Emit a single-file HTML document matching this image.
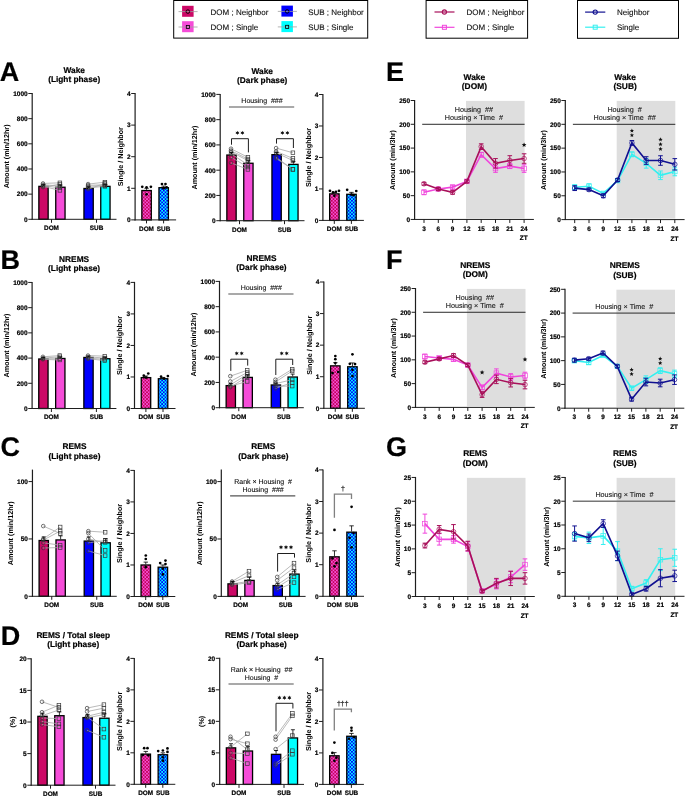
<!DOCTYPE html><html><head><meta charset="utf-8"><style>html,body{margin:0;padding:0;background:#fff;}svg{display:block;will-change:transform;} text{text-rendering:geometricPrecision;}</style></head><body>
<svg width="685" height="796" viewBox="0 0 685 796" font-family='"Liberation Sans", sans-serif'>
<rect width="685" height="796" fill="#fff"/>
<defs>
<pattern id="hd" width="3.36" height="3.36" patternUnits="userSpaceOnUse"><rect width="3.36" height="3.36" fill="#f452d6"/><rect width="1.68" height="1.68" fill="#c4005a"/><rect x="1.68" y="1.68" width="1.68" height="1.68" fill="#c4005a"/></pattern>
<pattern id="hs" width="3.36" height="3.36" patternUnits="userSpaceOnUse"><rect width="3.36" height="3.36" fill="#08f8ff"/><rect width="1.68" height="1.68" fill="#0000f8"/><rect x="1.68" y="1.68" width="1.68" height="1.68" fill="#0000f8"/></pattern>
</defs>
<rect x="173.7" y="0.5" width="194" height="37.6" fill="none" stroke="#000" stroke-width="1"/>
<rect x="182.10" y="5.80" width="11.5" height="11" fill="#cc0866"/>
<line x1="178.50" y1="11.60" x2="197.60" y2="11.60" stroke="#a0a0a0" stroke-width="0.8" />
<circle cx="187.85" cy="11.60" r="1.8" fill="none" stroke="#000" stroke-width="0.9"/>
<text x="210.60" y="15.00" font-size="8" font-weight="normal" text-anchor="start" fill="#111"  stroke="#111" stroke-width="0.12">DOM ; Neighbor</text>
<rect x="182.10" y="21.20" width="11.5" height="11" fill="#f54cd8"/>
<line x1="178.50" y1="27.00" x2="197.60" y2="27.00" stroke="#a0a0a0" stroke-width="0.8" />
<rect x="186.30" y="25.40" width="3.1" height="3.1" fill="none" stroke="#000" stroke-width="0.8"/>
<text x="210.60" y="30.40" font-size="8" font-weight="normal" text-anchor="start" fill="#111"  stroke="#111" stroke-width="0.12">DOM ; Single</text>
<rect x="281.40" y="5.60" width="11.5" height="11" fill="#0000ff"/>
<line x1="277.80" y1="11.40" x2="296.90" y2="11.40" stroke="#a0a0a0" stroke-width="0.8" />
<circle cx="287.15" cy="11.40" r="1.8" fill="none" stroke="#000" stroke-width="0.9"/>
<text x="308.20" y="14.80" font-size="8" font-weight="normal" text-anchor="start" fill="#111"  stroke="#111" stroke-width="0.12">SUB ; Neighbor</text>
<rect x="281.40" y="21.10" width="11.5" height="11" fill="#00ffff"/>
<line x1="277.80" y1="26.90" x2="296.90" y2="26.90" stroke="#a0a0a0" stroke-width="0.8" />
<rect x="285.60" y="25.30" width="3.1" height="3.1" fill="none" stroke="#000" stroke-width="0.8"/>
<text x="308.20" y="30.30" font-size="8" font-weight="normal" text-anchor="start" fill="#111"  stroke="#111" stroke-width="0.12">SUB ; Single</text>
<rect x="426.1" y="0.5" width="101.5" height="37.7" fill="none" stroke="#000" stroke-width="1"/>
<line x1="434.50" y1="12.00" x2="454.50" y2="12.00" stroke="#a8105a" stroke-width="1.2" />
<circle cx="444.4" cy="12.0" r="2.1" fill="none" stroke="#a8105a" stroke-width="1.1"/>
<text x="466.60" y="14.90" font-size="8" font-weight="normal" text-anchor="start" fill="#111"  stroke="#111" stroke-width="0.12">DOM ; Neighbor</text>
<line x1="434.50" y1="27.30" x2="454.50" y2="27.30" stroke="#f046dc" stroke-width="1.2" />
<rect x="442.4" y="25.3" width="4" height="4" fill="none" stroke="#f046dc" stroke-width="1"/>
<text x="466.60" y="30.20" font-size="8" font-weight="normal" text-anchor="start" fill="#111"  stroke="#111" stroke-width="0.12">DOM ; Single</text>
<rect x="577.5" y="0.5" width="101" height="37.8" fill="none" stroke="#000" stroke-width="1"/>
<line x1="585.10" y1="12.10" x2="605.30" y2="12.10" stroke="#101090" stroke-width="1.2" />
<circle cx="595.2" cy="12.1" r="2.1" fill="none" stroke="#101090" stroke-width="1.1"/>
<text x="617.00" y="15.00" font-size="8" font-weight="normal" text-anchor="start" fill="#111"  stroke="#111" stroke-width="0.12">Neighbor</text>
<line x1="585.10" y1="27.20" x2="605.30" y2="27.20" stroke="#33f0f0" stroke-width="1.2" />
<rect x="593.2" y="25.2" width="4" height="4" fill="none" stroke="#33f0f0" stroke-width="1"/>
<text x="617.00" y="30.10" font-size="8" font-weight="normal" text-anchor="start" fill="#111"  stroke="#111" stroke-width="0.12">Single</text>
<text x="-0.30" y="80.60" font-size="27" font-weight="bold" text-anchor="start" fill="#000"  stroke="#000" stroke-width="0.2">A</text>
<text x="0.50" y="269.20" font-size="27" font-weight="bold" text-anchor="start" fill="#000"  stroke="#000" stroke-width="0.2">B</text>
<text x="0.50" y="456.20" font-size="27" font-weight="bold" text-anchor="start" fill="#000"  stroke="#000" stroke-width="0.2">C</text>
<text x="0.70" y="644.80" font-size="27" font-weight="bold" text-anchor="start" fill="#000"  stroke="#000" stroke-width="0.2">D</text>
<text x="386.00" y="81.00" font-size="27" font-weight="bold" text-anchor="start" fill="#000"  stroke="#000" stroke-width="0.2">E</text>
<text x="386.00" y="269.40" font-size="27" font-weight="bold" text-anchor="start" fill="#000"  stroke="#000" stroke-width="0.2">F</text>
<text x="386.00" y="456.20" font-size="27" font-weight="bold" text-anchor="start" fill="#000"  stroke="#000" stroke-width="0.2">G</text>
<rect x="38.85" y="186.36" width="9.30" height="32.94" fill="#cc0866" stroke="#000" stroke-width="1.3"/>
<rect x="55.75" y="187.24" width="9.30" height="32.06" fill="#f54cd8" stroke="#000" stroke-width="1.3"/>
<rect x="83.95" y="188.50" width="9.30" height="30.80" fill="#0000ff" stroke="#000" stroke-width="1.3"/>
<rect x="100.75" y="186.36" width="9.30" height="32.94" fill="#00ffff" stroke="#000" stroke-width="1.3"/>
<line x1="43.00" y1="183.45" x2="59.90" y2="182.82" stroke="#a8a8a8" stroke-width="0.8" />
<line x1="43.00" y1="184.71" x2="59.90" y2="185.96" stroke="#a8a8a8" stroke-width="0.8" />
<line x1="43.00" y1="185.59" x2="59.90" y2="187.85" stroke="#a8a8a8" stroke-width="0.8" />
<line x1="43.00" y1="186.34" x2="59.90" y2="190.37" stroke="#a8a8a8" stroke-width="0.8" />
<line x1="43.00" y1="187.22" x2="59.90" y2="184.08" stroke="#a8a8a8" stroke-width="0.8" />
<circle cx="43.00" cy="183.45" r="1.8" fill="none" stroke="#3a3a3a" stroke-width="0.7"/>
<rect x="58.10" y="181.02" width="3.6" height="3.6" fill="none" stroke="#3a3a3a" stroke-width="0.7"/>
<circle cx="43.00" cy="184.71" r="1.8" fill="none" stroke="#3a3a3a" stroke-width="0.7"/>
<rect x="58.10" y="184.16" width="3.6" height="3.6" fill="none" stroke="#3a3a3a" stroke-width="0.7"/>
<circle cx="43.00" cy="185.59" r="1.8" fill="none" stroke="#3a3a3a" stroke-width="0.7"/>
<rect x="58.10" y="186.05" width="3.6" height="3.6" fill="none" stroke="#3a3a3a" stroke-width="0.7"/>
<circle cx="43.00" cy="186.34" r="1.8" fill="none" stroke="#3a3a3a" stroke-width="0.7"/>
<rect x="58.10" y="188.57" width="3.6" height="3.6" fill="none" stroke="#3a3a3a" stroke-width="0.7"/>
<circle cx="43.00" cy="187.22" r="1.8" fill="none" stroke="#3a3a3a" stroke-width="0.7"/>
<rect x="58.10" y="182.28" width="3.6" height="3.6" fill="none" stroke="#3a3a3a" stroke-width="0.7"/>
<line x1="88.10" y1="184.08" x2="104.90" y2="182.19" stroke="#a8a8a8" stroke-width="0.8" />
<line x1="88.10" y1="185.33" x2="104.90" y2="184.71" stroke="#a8a8a8" stroke-width="0.8" />
<line x1="88.10" y1="186.34" x2="104.90" y2="185.59" stroke="#a8a8a8" stroke-width="0.8" />
<line x1="88.10" y1="187.85" x2="104.90" y2="186.34" stroke="#a8a8a8" stroke-width="0.8" />
<line x1="88.10" y1="189.11" x2="104.90" y2="183.45" stroke="#a8a8a8" stroke-width="0.8" />
<circle cx="88.10" cy="184.08" r="1.8" fill="none" stroke="#3a3a3a" stroke-width="0.7"/>
<rect x="103.10" y="180.39" width="3.6" height="3.6" fill="none" stroke="#3a3a3a" stroke-width="0.7"/>
<circle cx="88.10" cy="185.33" r="1.8" fill="none" stroke="#3a3a3a" stroke-width="0.7"/>
<rect x="103.10" y="182.91" width="3.6" height="3.6" fill="none" stroke="#3a3a3a" stroke-width="0.7"/>
<circle cx="88.10" cy="186.34" r="1.8" fill="none" stroke="#3a3a3a" stroke-width="0.7"/>
<rect x="103.10" y="183.79" width="3.6" height="3.6" fill="none" stroke="#3a3a3a" stroke-width="0.7"/>
<circle cx="88.10" cy="187.85" r="1.8" fill="none" stroke="#3a3a3a" stroke-width="0.7"/>
<rect x="103.10" y="184.54" width="3.6" height="3.6" fill="none" stroke="#3a3a3a" stroke-width="0.7"/>
<circle cx="88.10" cy="189.11" r="1.8" fill="none" stroke="#3a3a3a" stroke-width="0.7"/>
<rect x="103.10" y="181.65" width="3.6" height="3.6" fill="none" stroke="#3a3a3a" stroke-width="0.7"/>
<line x1="43.50" y1="185.71" x2="43.50" y2="184.71" stroke="#000" stroke-width="0.8" />
<line x1="41.50" y1="184.71" x2="45.50" y2="184.71" stroke="#000" stroke-width="0.8" />
<line x1="60.40" y1="186.59" x2="60.40" y2="185.08" stroke="#000" stroke-width="0.8" />
<line x1="58.40" y1="185.08" x2="62.40" y2="185.08" stroke="#000" stroke-width="0.8" />
<line x1="88.60" y1="187.85" x2="88.60" y2="186.84" stroke="#000" stroke-width="0.8" />
<line x1="86.60" y1="186.84" x2="90.60" y2="186.84" stroke="#000" stroke-width="0.8" />
<line x1="105.40" y1="185.71" x2="105.40" y2="184.71" stroke="#000" stroke-width="0.8" />
<line x1="103.40" y1="184.71" x2="107.40" y2="184.71" stroke="#000" stroke-width="0.8" />
<line x1="32.20" y1="93.00" x2="32.20" y2="219.80" stroke="#1e1e1e" stroke-width="1.2" />
<line x1="28.30" y1="219.30" x2="32.20" y2="219.30" stroke="#1e1e1e" stroke-width="1" />
<text x="27.70" y="221.64" font-size="6.5" font-weight="bold" text-anchor="end" fill="#000"  stroke="#000" stroke-width="0.2">0</text>
<line x1="28.30" y1="194.14" x2="32.20" y2="194.14" stroke="#1e1e1e" stroke-width="1" />
<text x="27.70" y="196.48" font-size="6.5" font-weight="bold" text-anchor="end" fill="#000"  stroke="#000" stroke-width="0.2">200</text>
<line x1="28.30" y1="168.98" x2="32.20" y2="168.98" stroke="#1e1e1e" stroke-width="1" />
<text x="27.70" y="171.32" font-size="6.5" font-weight="bold" text-anchor="end" fill="#000"  stroke="#000" stroke-width="0.2">400</text>
<line x1="28.30" y1="143.82" x2="32.20" y2="143.82" stroke="#1e1e1e" stroke-width="1" />
<text x="27.70" y="146.16" font-size="6.5" font-weight="bold" text-anchor="end" fill="#000"  stroke="#000" stroke-width="0.2">600</text>
<line x1="28.30" y1="118.66" x2="32.20" y2="118.66" stroke="#1e1e1e" stroke-width="1" />
<text x="27.70" y="121.00" font-size="6.5" font-weight="bold" text-anchor="end" fill="#000"  stroke="#000" stroke-width="0.2">800</text>
<line x1="28.30" y1="93.50" x2="32.20" y2="93.50" stroke="#1e1e1e" stroke-width="1" />
<text x="27.70" y="95.84" font-size="6.5" font-weight="bold" text-anchor="end" fill="#000"  stroke="#000" stroke-width="0.2">1000</text>
<line x1="31.70" y1="219.30" x2="116.50" y2="219.30" stroke="#1e1e1e" stroke-width="1" />
<line x1="51.50" y1="219.30" x2="51.50" y2="222.80" stroke="#1e1e1e" stroke-width="1" />
<text x="51.50" y="230.10" font-size="6.4" font-weight="bold" text-anchor="middle" fill="#000"  stroke="#000" stroke-width="0.2">DOM</text>
<line x1="96.50" y1="219.30" x2="96.50" y2="222.80" stroke="#1e1e1e" stroke-width="1" />
<text x="96.50" y="230.10" font-size="6.4" font-weight="bold" text-anchor="middle" fill="#000"  stroke="#000" stroke-width="0.2">SUB</text>
<text x="74.20" y="72.70" font-size="8.3" font-weight="bold" text-anchor="middle" fill="#000"  stroke="#000" stroke-width="0.2">Wake</text>
<text x="74.20" y="82.10" font-size="8.3" font-weight="bold" text-anchor="middle" fill="#000"  stroke="#000" stroke-width="0.2">(Light phase)</text>
<text x="0" y="0" font-size="7.2" font-weight="bold" text-anchor="middle" transform="translate(8.90,156.40) rotate(-90)">Amount (min/12hr)</text>
<rect x="141.85" y="190.53" width="9.45" height="29.37" fill="url(#hd)" stroke="#000" stroke-width="1.3"/>
<rect x="158.95" y="187.69" width="9.45" height="32.21" fill="url(#hs)" stroke="#000" stroke-width="1.3"/>
<circle cx="142.27" cy="186.81" r="1.35" fill="#000"/>
<circle cx="146.57" cy="187.35" r="1.35" fill="#000"/>
<circle cx="150.88" cy="186.81" r="1.35" fill="#000"/>
<circle cx="146.57" cy="194.30" r="1.35" fill="#000"/>
<line x1="146.57" y1="189.88" x2="146.57" y2="188.30" stroke="#000" stroke-width="0.8" />
<line x1="144.38" y1="188.30" x2="148.77" y2="188.30" stroke="#000" stroke-width="0.8" />
<circle cx="161.97" cy="184.00" r="1.35" fill="#000"/>
<circle cx="165.47" cy="184.00" r="1.35" fill="#000"/>
<circle cx="163.67" cy="188.30" r="1.35" fill="#000"/>
<circle cx="166.67" cy="187.35" r="1.35" fill="#000"/>
<line x1="163.67" y1="187.04" x2="163.67" y2="186.09" stroke="#000" stroke-width="0.8" />
<line x1="161.47" y1="186.09" x2="165.87" y2="186.09" stroke="#000" stroke-width="0.8" />
<line x1="135.10" y1="93.00" x2="135.10" y2="220.40" stroke="#1e1e1e" stroke-width="1.2" />
<line x1="131.20" y1="219.90" x2="135.10" y2="219.90" stroke="#1e1e1e" stroke-width="1" />
<text x="130.60" y="222.24" font-size="6.5" font-weight="bold" text-anchor="end" fill="#000"  stroke="#000" stroke-width="0.2">0</text>
<line x1="131.20" y1="188.30" x2="135.10" y2="188.30" stroke="#1e1e1e" stroke-width="1" />
<text x="130.60" y="190.64" font-size="6.5" font-weight="bold" text-anchor="end" fill="#000"  stroke="#000" stroke-width="0.2">1</text>
<line x1="131.20" y1="156.70" x2="135.10" y2="156.70" stroke="#1e1e1e" stroke-width="1" />
<text x="130.60" y="159.04" font-size="6.5" font-weight="bold" text-anchor="end" fill="#000"  stroke="#000" stroke-width="0.2">2</text>
<line x1="131.20" y1="125.10" x2="135.10" y2="125.10" stroke="#1e1e1e" stroke-width="1" />
<text x="130.60" y="127.44" font-size="6.5" font-weight="bold" text-anchor="end" fill="#000"  stroke="#000" stroke-width="0.2">3</text>
<line x1="131.20" y1="93.50" x2="135.10" y2="93.50" stroke="#1e1e1e" stroke-width="1" />
<text x="130.60" y="95.84" font-size="6.5" font-weight="bold" text-anchor="end" fill="#000"  stroke="#000" stroke-width="0.2">4</text>
<line x1="134.60" y1="219.90" x2="176.10" y2="219.90" stroke="#1e1e1e" stroke-width="1" />
<line x1="146.50" y1="219.90" x2="146.50" y2="223.40" stroke="#1e1e1e" stroke-width="1" />
<text x="146.50" y="230.70" font-size="6.4" font-weight="bold" text-anchor="middle" fill="#000"  stroke="#000" stroke-width="0.2">DOM</text>
<line x1="163.60" y1="219.90" x2="163.60" y2="223.40" stroke="#1e1e1e" stroke-width="1" />
<text x="163.60" y="230.70" font-size="6.4" font-weight="bold" text-anchor="middle" fill="#000"  stroke="#000" stroke-width="0.2">SUB</text>
<text x="0" y="0" font-size="7.2" font-weight="bold" text-anchor="middle" transform="translate(122.90,156.70) rotate(-90)">Single / Neighbor</text>
<rect x="226.85" y="155.04" width="9.30" height="65.66" fill="#cc0866" stroke="#000" stroke-width="1.3"/>
<rect x="243.75" y="163.25" width="9.30" height="57.45" fill="#f54cd8" stroke="#000" stroke-width="1.3"/>
<rect x="271.95" y="154.66" width="9.30" height="66.04" fill="#0000ff" stroke="#000" stroke-width="1.3"/>
<rect x="288.75" y="164.39" width="9.30" height="56.31" fill="#00ffff" stroke="#000" stroke-width="1.3"/>
<line x1="231.00" y1="148.71" x2="247.90" y2="157.30" stroke="#a8a8a8" stroke-width="0.8" />
<line x1="231.00" y1="150.60" x2="247.90" y2="159.07" stroke="#a8a8a8" stroke-width="0.8" />
<line x1="231.00" y1="151.87" x2="247.90" y2="160.58" stroke="#a8a8a8" stroke-width="0.8" />
<line x1="231.00" y1="153.76" x2="247.90" y2="164.75" stroke="#a8a8a8" stroke-width="0.8" />
<line x1="231.00" y1="157.30" x2="247.90" y2="167.02" stroke="#a8a8a8" stroke-width="0.8" />
<line x1="231.00" y1="162.85" x2="247.90" y2="169.42" stroke="#a8a8a8" stroke-width="0.8" />
<circle cx="231.00" cy="148.71" r="1.8" fill="none" stroke="#3a3a3a" stroke-width="0.7"/>
<rect x="246.10" y="155.50" width="3.6" height="3.6" fill="none" stroke="#3a3a3a" stroke-width="0.7"/>
<circle cx="231.00" cy="150.60" r="1.8" fill="none" stroke="#3a3a3a" stroke-width="0.7"/>
<rect x="246.10" y="157.27" width="3.6" height="3.6" fill="none" stroke="#3a3a3a" stroke-width="0.7"/>
<circle cx="231.00" cy="151.87" r="1.8" fill="none" stroke="#3a3a3a" stroke-width="0.7"/>
<rect x="246.10" y="158.78" width="3.6" height="3.6" fill="none" stroke="#3a3a3a" stroke-width="0.7"/>
<circle cx="231.00" cy="153.76" r="1.8" fill="none" stroke="#3a3a3a" stroke-width="0.7"/>
<rect x="246.10" y="162.95" width="3.6" height="3.6" fill="none" stroke="#3a3a3a" stroke-width="0.7"/>
<circle cx="231.00" cy="157.30" r="1.8" fill="none" stroke="#3a3a3a" stroke-width="0.7"/>
<rect x="246.10" y="165.22" width="3.6" height="3.6" fill="none" stroke="#3a3a3a" stroke-width="0.7"/>
<circle cx="231.00" cy="162.85" r="1.8" fill="none" stroke="#3a3a3a" stroke-width="0.7"/>
<rect x="246.10" y="167.62" width="3.6" height="3.6" fill="none" stroke="#3a3a3a" stroke-width="0.7"/>
<line x1="276.10" y1="148.08" x2="292.90" y2="152.75" stroke="#a8a8a8" stroke-width="0.8" />
<line x1="276.10" y1="151.36" x2="292.90" y2="158.43" stroke="#a8a8a8" stroke-width="0.8" />
<line x1="276.10" y1="152.75" x2="292.90" y2="160.58" stroke="#a8a8a8" stroke-width="0.8" />
<line x1="276.10" y1="157.30" x2="292.90" y2="169.42" stroke="#a8a8a8" stroke-width="0.8" />
<line x1="276.10" y1="158.43" x2="292.90" y2="169.42" stroke="#a8a8a8" stroke-width="0.8" />
<circle cx="276.10" cy="148.08" r="1.8" fill="none" stroke="#3a3a3a" stroke-width="0.7"/>
<rect x="291.10" y="150.95" width="3.6" height="3.6" fill="none" stroke="#3a3a3a" stroke-width="0.7"/>
<circle cx="276.10" cy="151.36" r="1.8" fill="none" stroke="#3a3a3a" stroke-width="0.7"/>
<rect x="291.10" y="156.63" width="3.6" height="3.6" fill="none" stroke="#3a3a3a" stroke-width="0.7"/>
<circle cx="276.10" cy="152.75" r="1.8" fill="none" stroke="#3a3a3a" stroke-width="0.7"/>
<rect x="291.10" y="158.78" width="3.6" height="3.6" fill="none" stroke="#3a3a3a" stroke-width="0.7"/>
<circle cx="276.10" cy="157.30" r="1.8" fill="none" stroke="#3a3a3a" stroke-width="0.7"/>
<rect x="291.10" y="167.62" width="3.6" height="3.6" fill="none" stroke="#3a3a3a" stroke-width="0.7"/>
<circle cx="276.10" cy="158.43" r="1.8" fill="none" stroke="#3a3a3a" stroke-width="0.7"/>
<rect x="291.10" y="167.62" width="3.6" height="3.6" fill="none" stroke="#3a3a3a" stroke-width="0.7"/>
<line x1="231.50" y1="154.39" x2="231.50" y2="152.50" stroke="#000" stroke-width="0.8" />
<line x1="229.50" y1="152.50" x2="233.50" y2="152.50" stroke="#000" stroke-width="0.8" />
<line x1="248.40" y1="162.60" x2="248.40" y2="160.71" stroke="#000" stroke-width="0.8" />
<line x1="246.40" y1="160.71" x2="250.40" y2="160.71" stroke="#000" stroke-width="0.8" />
<line x1="276.60" y1="154.01" x2="276.60" y2="152.50" stroke="#000" stroke-width="0.8" />
<line x1="274.60" y1="152.50" x2="278.60" y2="152.50" stroke="#000" stroke-width="0.8" />
<line x1="293.40" y1="163.74" x2="293.40" y2="161.47" stroke="#000" stroke-width="0.8" />
<line x1="291.40" y1="161.47" x2="295.40" y2="161.47" stroke="#000" stroke-width="0.8" />
<line x1="220.20" y1="93.90" x2="220.20" y2="221.20" stroke="#1e1e1e" stroke-width="1.2" />
<line x1="216.30" y1="220.70" x2="220.20" y2="220.70" stroke="#1e1e1e" stroke-width="1" />
<text x="215.70" y="223.04" font-size="6.5" font-weight="bold" text-anchor="end" fill="#000"  stroke="#000" stroke-width="0.2">0</text>
<line x1="216.30" y1="195.44" x2="220.20" y2="195.44" stroke="#1e1e1e" stroke-width="1" />
<text x="215.70" y="197.78" font-size="6.5" font-weight="bold" text-anchor="end" fill="#000"  stroke="#000" stroke-width="0.2">200</text>
<line x1="216.30" y1="170.18" x2="220.20" y2="170.18" stroke="#1e1e1e" stroke-width="1" />
<text x="215.70" y="172.52" font-size="6.5" font-weight="bold" text-anchor="end" fill="#000"  stroke="#000" stroke-width="0.2">400</text>
<line x1="216.30" y1="144.92" x2="220.20" y2="144.92" stroke="#1e1e1e" stroke-width="1" />
<text x="215.70" y="147.26" font-size="6.5" font-weight="bold" text-anchor="end" fill="#000"  stroke="#000" stroke-width="0.2">600</text>
<line x1="216.30" y1="119.66" x2="220.20" y2="119.66" stroke="#1e1e1e" stroke-width="1" />
<text x="215.70" y="122.00" font-size="6.5" font-weight="bold" text-anchor="end" fill="#000"  stroke="#000" stroke-width="0.2">800</text>
<line x1="216.30" y1="94.40" x2="220.20" y2="94.40" stroke="#1e1e1e" stroke-width="1" />
<text x="215.70" y="96.74" font-size="6.5" font-weight="bold" text-anchor="end" fill="#000"  stroke="#000" stroke-width="0.2">1000</text>
<line x1="219.70" y1="220.70" x2="304.50" y2="220.70" stroke="#1e1e1e" stroke-width="1" />
<line x1="239.50" y1="220.70" x2="239.50" y2="224.20" stroke="#1e1e1e" stroke-width="1" />
<text x="239.50" y="231.50" font-size="6.4" font-weight="bold" text-anchor="middle" fill="#000"  stroke="#000" stroke-width="0.2">DOM</text>
<line x1="284.50" y1="220.70" x2="284.50" y2="224.20" stroke="#1e1e1e" stroke-width="1" />
<text x="284.50" y="231.50" font-size="6.4" font-weight="bold" text-anchor="middle" fill="#000"  stroke="#000" stroke-width="0.2">SUB</text>
<text x="262.20" y="73.60" font-size="8.3" font-weight="bold" text-anchor="middle" fill="#000"  stroke="#000" stroke-width="0.2">Wake</text>
<text x="262.20" y="83.00" font-size="8.3" font-weight="bold" text-anchor="middle" fill="#000"  stroke="#000" stroke-width="0.2">(Dark phase)</text>
<text x="0" y="0" font-size="7.2" font-weight="bold" text-anchor="middle" transform="translate(196.90,157.55) rotate(-90)">Amount (min/12hr)</text>
<rect x="329.65" y="193.86" width="9.45" height="26.54" fill="url(#hd)" stroke="#000" stroke-width="1.3"/>
<rect x="346.75" y="194.30" width="9.45" height="26.10" fill="url(#hs)" stroke="#000" stroke-width="1.3"/>
<circle cx="329.98" cy="190.81" r="1.35" fill="#000"/>
<circle cx="338.98" cy="190.81" r="1.35" fill="#000"/>
<circle cx="332.98" cy="192.39" r="1.35" fill="#000"/>
<circle cx="335.98" cy="191.76" r="1.35" fill="#000"/>
<circle cx="334.38" cy="195.85" r="1.35" fill="#000"/>
<line x1="334.38" y1="193.21" x2="334.38" y2="192.26" stroke="#000" stroke-width="0.8" />
<line x1="332.18" y1="192.26" x2="336.57" y2="192.26" stroke="#000" stroke-width="0.8" />
<circle cx="347.17" cy="189.87" r="1.35" fill="#000"/>
<circle cx="356.27" cy="191.00" r="1.35" fill="#000"/>
<circle cx="351.47" cy="194.59" r="1.35" fill="#000"/>
<circle cx="353.47" cy="195.22" r="1.35" fill="#000"/>
<line x1="351.47" y1="193.65" x2="351.47" y2="192.39" stroke="#000" stroke-width="0.8" />
<line x1="349.27" y1="192.39" x2="353.67" y2="192.39" stroke="#000" stroke-width="0.8" />
<line x1="322.90" y1="94.00" x2="322.90" y2="220.90" stroke="#1e1e1e" stroke-width="1.2" />
<line x1="319.00" y1="220.40" x2="322.90" y2="220.40" stroke="#1e1e1e" stroke-width="1" />
<text x="318.40" y="222.74" font-size="6.5" font-weight="bold" text-anchor="end" fill="#000"  stroke="#000" stroke-width="0.2">0</text>
<line x1="319.00" y1="188.93" x2="322.90" y2="188.93" stroke="#1e1e1e" stroke-width="1" />
<text x="318.40" y="191.27" font-size="6.5" font-weight="bold" text-anchor="end" fill="#000"  stroke="#000" stroke-width="0.2">1</text>
<line x1="319.00" y1="157.45" x2="322.90" y2="157.45" stroke="#1e1e1e" stroke-width="1" />
<text x="318.40" y="159.79" font-size="6.5" font-weight="bold" text-anchor="end" fill="#000"  stroke="#000" stroke-width="0.2">2</text>
<line x1="319.00" y1="125.97" x2="322.90" y2="125.97" stroke="#1e1e1e" stroke-width="1" />
<text x="318.40" y="128.31" font-size="6.5" font-weight="bold" text-anchor="end" fill="#000"  stroke="#000" stroke-width="0.2">3</text>
<line x1="319.00" y1="94.50" x2="322.90" y2="94.50" stroke="#1e1e1e" stroke-width="1" />
<text x="318.40" y="96.84" font-size="6.5" font-weight="bold" text-anchor="end" fill="#000"  stroke="#000" stroke-width="0.2">4</text>
<line x1="322.40" y1="220.40" x2="363.90" y2="220.40" stroke="#1e1e1e" stroke-width="1" />
<line x1="334.30" y1="220.40" x2="334.30" y2="223.90" stroke="#1e1e1e" stroke-width="1" />
<text x="334.30" y="231.20" font-size="6.4" font-weight="bold" text-anchor="middle" fill="#000"  stroke="#000" stroke-width="0.2">DOM</text>
<line x1="351.40" y1="220.40" x2="351.40" y2="223.90" stroke="#1e1e1e" stroke-width="1" />
<text x="351.40" y="231.20" font-size="6.4" font-weight="bold" text-anchor="middle" fill="#000"  stroke="#000" stroke-width="0.2">SUB</text>
<text x="0" y="0" font-size="7.2" font-weight="bold" text-anchor="middle" transform="translate(310.70,157.45) rotate(-90)">Single / Neighbor</text>
<text x="262.00" y="102.90" font-size="7" font-weight="normal" text-anchor="middle" fill="#111"  stroke="#111" stroke-width="0.12">Housing&#160;&#160;###</text>
<line x1="229.00" y1="107.00" x2="294.20" y2="107.00" stroke="#555555" stroke-width="1.2" />
<polyline points="231.50,144.70 231.50,138.70 248.40,138.70 248.40,152.40" fill="none" stroke="#1e1e1e" stroke-width="1.0"/>
<polygon points="237.40,130.70 237.95,131.95 239.31,131.80 238.50,132.90 239.31,134.00 237.95,133.85 237.40,135.10 236.85,133.85 235.49,134.00 236.30,132.90 235.49,131.80 236.85,131.95" fill="#111"/>
<polygon points="242.40,130.70 242.95,131.95 244.31,131.80 243.50,132.90 244.31,134.00 242.95,133.85 242.40,135.10 241.85,133.85 240.49,134.00 241.30,132.90 240.49,131.80 241.85,131.95" fill="#111"/>
<polyline points="276.50,143.60 276.50,138.70 293.40,138.70 293.40,148.00" fill="none" stroke="#1e1e1e" stroke-width="1.0"/>
<polygon points="282.40,130.70 282.95,131.95 284.31,131.80 283.50,132.90 284.31,134.00 282.95,133.85 282.40,135.10 281.85,133.85 280.49,134.00 281.30,132.90 280.49,131.80 281.85,131.95" fill="#111"/>
<polygon points="287.40,130.70 287.95,131.95 289.31,131.80 288.50,132.90 289.31,134.00 287.95,133.85 287.40,135.10 286.85,133.85 285.49,134.00 286.30,132.90 285.49,131.80 286.85,131.95" fill="#111"/>
<rect x="38.75" y="358.98" width="9.30" height="49.52" fill="#cc0866" stroke="#000" stroke-width="1.3"/>
<rect x="55.65" y="358.48" width="9.30" height="50.02" fill="#f54cd8" stroke="#000" stroke-width="1.3"/>
<rect x="83.85" y="357.47" width="9.30" height="51.03" fill="#0000ff" stroke="#000" stroke-width="1.3"/>
<rect x="100.65" y="358.73" width="9.30" height="49.77" fill="#00ffff" stroke="#000" stroke-width="1.3"/>
<line x1="42.90" y1="356.82" x2="59.80" y2="355.56" stroke="#a8a8a8" stroke-width="0.8" />
<line x1="42.90" y1="358.08" x2="59.80" y2="356.82" stroke="#a8a8a8" stroke-width="0.8" />
<line x1="42.90" y1="358.71" x2="59.80" y2="358.71" stroke="#a8a8a8" stroke-width="0.8" />
<line x1="42.90" y1="359.34" x2="59.80" y2="359.97" stroke="#a8a8a8" stroke-width="0.8" />
<circle cx="42.90" cy="356.82" r="1.8" fill="none" stroke="#3a3a3a" stroke-width="0.7"/>
<rect x="58.00" y="353.76" width="3.6" height="3.6" fill="none" stroke="#3a3a3a" stroke-width="0.7"/>
<circle cx="42.90" cy="358.08" r="1.8" fill="none" stroke="#3a3a3a" stroke-width="0.7"/>
<rect x="58.00" y="355.02" width="3.6" height="3.6" fill="none" stroke="#3a3a3a" stroke-width="0.7"/>
<circle cx="42.90" cy="358.71" r="1.8" fill="none" stroke="#3a3a3a" stroke-width="0.7"/>
<rect x="58.00" y="356.91" width="3.6" height="3.6" fill="none" stroke="#3a3a3a" stroke-width="0.7"/>
<circle cx="42.90" cy="359.34" r="1.8" fill="none" stroke="#3a3a3a" stroke-width="0.7"/>
<rect x="58.00" y="358.17" width="3.6" height="3.6" fill="none" stroke="#3a3a3a" stroke-width="0.7"/>
<line x1="88.00" y1="355.56" x2="104.80" y2="356.19" stroke="#a8a8a8" stroke-width="0.8" />
<line x1="88.00" y1="356.82" x2="104.80" y2="358.08" stroke="#a8a8a8" stroke-width="0.8" />
<line x1="88.00" y1="358.08" x2="104.80" y2="359.34" stroke="#a8a8a8" stroke-width="0.8" />
<line x1="88.00" y1="358.71" x2="104.80" y2="360.60" stroke="#a8a8a8" stroke-width="0.8" />
<circle cx="88.00" cy="355.56" r="1.8" fill="none" stroke="#3a3a3a" stroke-width="0.7"/>
<rect x="103.00" y="354.39" width="3.6" height="3.6" fill="none" stroke="#3a3a3a" stroke-width="0.7"/>
<circle cx="88.00" cy="356.82" r="1.8" fill="none" stroke="#3a3a3a" stroke-width="0.7"/>
<rect x="103.00" y="356.28" width="3.6" height="3.6" fill="none" stroke="#3a3a3a" stroke-width="0.7"/>
<circle cx="88.00" cy="358.08" r="1.8" fill="none" stroke="#3a3a3a" stroke-width="0.7"/>
<rect x="103.00" y="357.54" width="3.6" height="3.6" fill="none" stroke="#3a3a3a" stroke-width="0.7"/>
<circle cx="88.00" cy="358.71" r="1.8" fill="none" stroke="#3a3a3a" stroke-width="0.7"/>
<rect x="103.00" y="358.80" width="3.6" height="3.6" fill="none" stroke="#3a3a3a" stroke-width="0.7"/>
<line x1="43.40" y1="358.33" x2="43.40" y2="357.58" stroke="#000" stroke-width="0.8" />
<line x1="41.40" y1="357.58" x2="45.40" y2="357.58" stroke="#000" stroke-width="0.8" />
<line x1="60.30" y1="357.83" x2="60.30" y2="356.82" stroke="#000" stroke-width="0.8" />
<line x1="58.30" y1="356.82" x2="62.30" y2="356.82" stroke="#000" stroke-width="0.8" />
<line x1="88.50" y1="356.82" x2="88.50" y2="356.06" stroke="#000" stroke-width="0.8" />
<line x1="86.50" y1="356.06" x2="90.50" y2="356.06" stroke="#000" stroke-width="0.8" />
<line x1="105.30" y1="358.08" x2="105.30" y2="357.07" stroke="#000" stroke-width="0.8" />
<line x1="103.30" y1="357.07" x2="107.30" y2="357.07" stroke="#000" stroke-width="0.8" />
<line x1="32.10" y1="281.95" x2="32.10" y2="409.00" stroke="#1e1e1e" stroke-width="1.2" />
<line x1="28.20" y1="408.50" x2="32.10" y2="408.50" stroke="#1e1e1e" stroke-width="1" />
<text x="27.60" y="410.84" font-size="6.5" font-weight="bold" text-anchor="end" fill="#000"  stroke="#000" stroke-width="0.2">0</text>
<line x1="28.20" y1="383.29" x2="32.10" y2="383.29" stroke="#1e1e1e" stroke-width="1" />
<text x="27.60" y="385.63" font-size="6.5" font-weight="bold" text-anchor="end" fill="#000"  stroke="#000" stroke-width="0.2">200</text>
<line x1="28.20" y1="358.08" x2="32.10" y2="358.08" stroke="#1e1e1e" stroke-width="1" />
<text x="27.60" y="360.42" font-size="6.5" font-weight="bold" text-anchor="end" fill="#000"  stroke="#000" stroke-width="0.2">400</text>
<line x1="28.20" y1="332.87" x2="32.10" y2="332.87" stroke="#1e1e1e" stroke-width="1" />
<text x="27.60" y="335.21" font-size="6.5" font-weight="bold" text-anchor="end" fill="#000"  stroke="#000" stroke-width="0.2">600</text>
<line x1="28.20" y1="307.66" x2="32.10" y2="307.66" stroke="#1e1e1e" stroke-width="1" />
<text x="27.60" y="310.00" font-size="6.5" font-weight="bold" text-anchor="end" fill="#000"  stroke="#000" stroke-width="0.2">800</text>
<line x1="28.20" y1="282.45" x2="32.10" y2="282.45" stroke="#1e1e1e" stroke-width="1" />
<text x="27.60" y="284.79" font-size="6.5" font-weight="bold" text-anchor="end" fill="#000"  stroke="#000" stroke-width="0.2">1000</text>
<line x1="31.60" y1="408.50" x2="116.40" y2="408.50" stroke="#1e1e1e" stroke-width="1" />
<line x1="51.40" y1="408.50" x2="51.40" y2="412.00" stroke="#1e1e1e" stroke-width="1" />
<text x="51.40" y="419.30" font-size="6.4" font-weight="bold" text-anchor="middle" fill="#000"  stroke="#000" stroke-width="0.2">DOM</text>
<line x1="96.40" y1="408.50" x2="96.40" y2="412.00" stroke="#1e1e1e" stroke-width="1" />
<text x="96.40" y="419.30" font-size="6.4" font-weight="bold" text-anchor="middle" fill="#000"  stroke="#000" stroke-width="0.2">SUB</text>
<text x="74.10" y="261.65" font-size="8.3" font-weight="bold" text-anchor="middle" fill="#000"  stroke="#000" stroke-width="0.2">NREMS</text>
<text x="74.10" y="271.05" font-size="8.3" font-weight="bold" text-anchor="middle" fill="#000"  stroke="#000" stroke-width="0.2">(Light phase)</text>
<text x="0" y="0" font-size="7.2" font-weight="bold" text-anchor="middle" transform="translate(8.80,345.48) rotate(-90)">Amount (min/12hr)</text>
<rect x="141.25" y="377.62" width="9.45" height="30.87" fill="url(#hd)" stroke="#000" stroke-width="1.3"/>
<rect x="158.35" y="378.73" width="9.45" height="29.77" fill="url(#hs)" stroke="#000" stroke-width="1.3"/>
<circle cx="143.78" cy="375.71" r="1.35" fill="#000"/>
<circle cx="148.28" cy="373.51" r="1.35" fill="#000"/>
<circle cx="145.97" cy="377.61" r="1.35" fill="#000"/>
<line x1="145.97" y1="376.98" x2="145.97" y2="376.03" stroke="#000" stroke-width="0.8" />
<line x1="143.78" y1="376.03" x2="148.17" y2="376.03" stroke="#000" stroke-width="0.8" />
<circle cx="161.07" cy="376.66" r="1.35" fill="#000"/>
<circle cx="167.88" cy="376.03" r="1.35" fill="#000"/>
<circle cx="164.07" cy="378.55" r="1.35" fill="#000"/>
<line x1="163.07" y1="378.08" x2="163.07" y2="377.45" stroke="#000" stroke-width="0.8" />
<line x1="160.88" y1="377.45" x2="165.27" y2="377.45" stroke="#000" stroke-width="0.8" />
<line x1="134.50" y1="281.90" x2="134.50" y2="409.00" stroke="#1e1e1e" stroke-width="1.2" />
<line x1="130.60" y1="408.50" x2="134.50" y2="408.50" stroke="#1e1e1e" stroke-width="1" />
<text x="130.00" y="410.84" font-size="6.5" font-weight="bold" text-anchor="end" fill="#000"  stroke="#000" stroke-width="0.2">0</text>
<line x1="130.60" y1="376.98" x2="134.50" y2="376.98" stroke="#1e1e1e" stroke-width="1" />
<text x="130.00" y="379.31" font-size="6.5" font-weight="bold" text-anchor="end" fill="#000"  stroke="#000" stroke-width="0.2">1</text>
<line x1="130.60" y1="345.45" x2="134.50" y2="345.45" stroke="#1e1e1e" stroke-width="1" />
<text x="130.00" y="347.79" font-size="6.5" font-weight="bold" text-anchor="end" fill="#000"  stroke="#000" stroke-width="0.2">2</text>
<line x1="130.60" y1="313.92" x2="134.50" y2="313.92" stroke="#1e1e1e" stroke-width="1" />
<text x="130.00" y="316.26" font-size="6.5" font-weight="bold" text-anchor="end" fill="#000"  stroke="#000" stroke-width="0.2">3</text>
<line x1="130.60" y1="282.40" x2="134.50" y2="282.40" stroke="#1e1e1e" stroke-width="1" />
<text x="130.00" y="284.74" font-size="6.5" font-weight="bold" text-anchor="end" fill="#000"  stroke="#000" stroke-width="0.2">4</text>
<line x1="134.00" y1="408.50" x2="175.50" y2="408.50" stroke="#1e1e1e" stroke-width="1" />
<line x1="145.90" y1="408.50" x2="145.90" y2="412.00" stroke="#1e1e1e" stroke-width="1" />
<text x="145.90" y="419.30" font-size="6.4" font-weight="bold" text-anchor="middle" fill="#000"  stroke="#000" stroke-width="0.2">DOM</text>
<line x1="163.00" y1="408.50" x2="163.00" y2="412.00" stroke="#1e1e1e" stroke-width="1" />
<text x="163.00" y="419.30" font-size="6.4" font-weight="bold" text-anchor="middle" fill="#000"  stroke="#000" stroke-width="0.2">SUB</text>
<text x="0" y="0" font-size="7.2" font-weight="bold" text-anchor="middle" transform="translate(122.30,345.45) rotate(-90)">Single / Neighbor</text>
<rect x="226.15" y="385.62" width="9.30" height="22.08" fill="#cc0866" stroke="#000" stroke-width="1.3"/>
<rect x="243.05" y="377.41" width="9.30" height="30.29" fill="#f54cd8" stroke="#000" stroke-width="1.3"/>
<rect x="271.25" y="384.98" width="9.30" height="22.72" fill="#0000ff" stroke="#000" stroke-width="1.3"/>
<rect x="288.05" y="377.03" width="9.30" height="30.67" fill="#00ffff" stroke="#000" stroke-width="1.3"/>
<line x1="230.30" y1="376.12" x2="247.20" y2="370.32" stroke="#a8a8a8" stroke-width="0.8" />
<line x1="230.30" y1="381.43" x2="247.20" y2="372.59" stroke="#a8a8a8" stroke-width="0.8" />
<line x1="230.30" y1="384.97" x2="247.20" y2="374.36" stroke="#a8a8a8" stroke-width="0.8" />
<line x1="230.30" y1="387.24" x2="247.20" y2="376.76" stroke="#a8a8a8" stroke-width="0.8" />
<line x1="230.30" y1="386.23" x2="247.20" y2="381.43" stroke="#a8a8a8" stroke-width="0.8" />
<circle cx="230.30" cy="376.12" r="1.8" fill="none" stroke="#3a3a3a" stroke-width="0.7"/>
<rect x="245.40" y="368.52" width="3.6" height="3.6" fill="none" stroke="#3a3a3a" stroke-width="0.7"/>
<circle cx="230.30" cy="381.43" r="1.8" fill="none" stroke="#3a3a3a" stroke-width="0.7"/>
<rect x="245.40" y="370.79" width="3.6" height="3.6" fill="none" stroke="#3a3a3a" stroke-width="0.7"/>
<circle cx="230.30" cy="384.97" r="1.8" fill="none" stroke="#3a3a3a" stroke-width="0.7"/>
<rect x="245.40" y="372.56" width="3.6" height="3.6" fill="none" stroke="#3a3a3a" stroke-width="0.7"/>
<circle cx="230.30" cy="387.24" r="1.8" fill="none" stroke="#3a3a3a" stroke-width="0.7"/>
<rect x="245.40" y="374.96" width="3.6" height="3.6" fill="none" stroke="#3a3a3a" stroke-width="0.7"/>
<circle cx="230.30" cy="386.23" r="1.8" fill="none" stroke="#3a3a3a" stroke-width="0.7"/>
<rect x="245.40" y="379.63" width="3.6" height="3.6" fill="none" stroke="#3a3a3a" stroke-width="0.7"/>
<line x1="275.40" y1="379.66" x2="292.20" y2="369.18" stroke="#a8a8a8" stroke-width="0.8" />
<line x1="275.40" y1="382.06" x2="292.20" y2="370.95" stroke="#a8a8a8" stroke-width="0.8" />
<line x1="275.40" y1="383.70" x2="292.20" y2="379.66" stroke="#a8a8a8" stroke-width="0.8" />
<line x1="275.40" y1="388.38" x2="292.20" y2="382.57" stroke="#a8a8a8" stroke-width="0.8" />
<line x1="275.40" y1="386.23" x2="292.20" y2="386.10" stroke="#a8a8a8" stroke-width="0.8" />
<circle cx="275.40" cy="379.66" r="1.8" fill="none" stroke="#3a3a3a" stroke-width="0.7"/>
<rect x="290.40" y="367.38" width="3.6" height="3.6" fill="none" stroke="#3a3a3a" stroke-width="0.7"/>
<circle cx="275.40" cy="382.06" r="1.8" fill="none" stroke="#3a3a3a" stroke-width="0.7"/>
<rect x="290.40" y="369.15" width="3.6" height="3.6" fill="none" stroke="#3a3a3a" stroke-width="0.7"/>
<circle cx="275.40" cy="383.70" r="1.8" fill="none" stroke="#3a3a3a" stroke-width="0.7"/>
<rect x="290.40" y="377.86" width="3.6" height="3.6" fill="none" stroke="#3a3a3a" stroke-width="0.7"/>
<circle cx="275.40" cy="388.38" r="1.8" fill="none" stroke="#3a3a3a" stroke-width="0.7"/>
<rect x="290.40" y="380.77" width="3.6" height="3.6" fill="none" stroke="#3a3a3a" stroke-width="0.7"/>
<circle cx="275.40" cy="386.23" r="1.8" fill="none" stroke="#3a3a3a" stroke-width="0.7"/>
<rect x="290.40" y="384.30" width="3.6" height="3.6" fill="none" stroke="#3a3a3a" stroke-width="0.7"/>
<line x1="230.80" y1="384.97" x2="230.80" y2="383.45" stroke="#000" stroke-width="0.8" />
<line x1="228.80" y1="383.45" x2="232.80" y2="383.45" stroke="#000" stroke-width="0.8" />
<line x1="247.70" y1="376.76" x2="247.70" y2="374.86" stroke="#000" stroke-width="0.8" />
<line x1="245.70" y1="374.86" x2="249.70" y2="374.86" stroke="#000" stroke-width="0.8" />
<line x1="275.90" y1="384.33" x2="275.90" y2="383.07" stroke="#000" stroke-width="0.8" />
<line x1="273.90" y1="383.07" x2="277.90" y2="383.07" stroke="#000" stroke-width="0.8" />
<line x1="292.70" y1="376.38" x2="292.70" y2="374.10" stroke="#000" stroke-width="0.8" />
<line x1="290.70" y1="374.10" x2="294.70" y2="374.10" stroke="#000" stroke-width="0.8" />
<line x1="219.50" y1="280.90" x2="219.50" y2="408.20" stroke="#1e1e1e" stroke-width="1.2" />
<line x1="215.60" y1="407.70" x2="219.50" y2="407.70" stroke="#1e1e1e" stroke-width="1" />
<text x="215.00" y="410.04" font-size="6.5" font-weight="bold" text-anchor="end" fill="#000"  stroke="#000" stroke-width="0.2">0</text>
<line x1="215.60" y1="382.44" x2="219.50" y2="382.44" stroke="#1e1e1e" stroke-width="1" />
<text x="215.00" y="384.78" font-size="6.5" font-weight="bold" text-anchor="end" fill="#000"  stroke="#000" stroke-width="0.2">200</text>
<line x1="215.60" y1="357.18" x2="219.50" y2="357.18" stroke="#1e1e1e" stroke-width="1" />
<text x="215.00" y="359.52" font-size="6.5" font-weight="bold" text-anchor="end" fill="#000"  stroke="#000" stroke-width="0.2">400</text>
<line x1="215.60" y1="331.92" x2="219.50" y2="331.92" stroke="#1e1e1e" stroke-width="1" />
<text x="215.00" y="334.26" font-size="6.5" font-weight="bold" text-anchor="end" fill="#000"  stroke="#000" stroke-width="0.2">600</text>
<line x1="215.60" y1="306.66" x2="219.50" y2="306.66" stroke="#1e1e1e" stroke-width="1" />
<text x="215.00" y="309.00" font-size="6.5" font-weight="bold" text-anchor="end" fill="#000"  stroke="#000" stroke-width="0.2">800</text>
<line x1="215.60" y1="281.40" x2="219.50" y2="281.40" stroke="#1e1e1e" stroke-width="1" />
<text x="215.00" y="283.74" font-size="6.5" font-weight="bold" text-anchor="end" fill="#000"  stroke="#000" stroke-width="0.2">1000</text>
<line x1="219.00" y1="407.70" x2="303.80" y2="407.70" stroke="#1e1e1e" stroke-width="1" />
<line x1="238.80" y1="407.70" x2="238.80" y2="411.20" stroke="#1e1e1e" stroke-width="1" />
<text x="238.80" y="418.50" font-size="6.4" font-weight="bold" text-anchor="middle" fill="#000"  stroke="#000" stroke-width="0.2">DOM</text>
<line x1="283.80" y1="407.70" x2="283.80" y2="411.20" stroke="#1e1e1e" stroke-width="1" />
<text x="283.80" y="418.50" font-size="6.4" font-weight="bold" text-anchor="middle" fill="#000"  stroke="#000" stroke-width="0.2">SUB</text>
<text x="261.50" y="260.60" font-size="8.3" font-weight="bold" text-anchor="middle" fill="#000"  stroke="#000" stroke-width="0.2">NREMS</text>
<text x="261.50" y="270.00" font-size="8.3" font-weight="bold" text-anchor="middle" fill="#000"  stroke="#000" stroke-width="0.2">(Dark phase)</text>
<text x="0" y="0" font-size="7.2" font-weight="bold" text-anchor="middle" transform="translate(196.20,344.55) rotate(-90)">Amount (min/12hr)</text>
<rect x="330.60" y="365.85" width="9.45" height="42.45" fill="url(#hd)" stroke="#000" stroke-width="1.3"/>
<rect x="347.70" y="366.77" width="9.45" height="41.53" fill="url(#hs)" stroke="#000" stroke-width="1.3"/>
<circle cx="335.33" cy="356.01" r="1.35" fill="#000"/>
<circle cx="335.33" cy="359.20" r="1.35" fill="#000"/>
<circle cx="335.33" cy="362.99" r="1.35" fill="#000"/>
<circle cx="332.53" cy="373.09" r="1.35" fill="#000"/>
<circle cx="338.23" cy="371.99" r="1.35" fill="#000"/>
<line x1="335.33" y1="365.20" x2="335.33" y2="362.67" stroke="#000" stroke-width="0.8" />
<line x1="333.13" y1="362.67" x2="337.53" y2="362.67" stroke="#000" stroke-width="0.8" />
<circle cx="352.43" cy="354.31" r="1.35" fill="#000"/>
<circle cx="349.82" cy="363.78" r="1.35" fill="#000"/>
<circle cx="355.03" cy="364.10" r="1.35" fill="#000"/>
<circle cx="352.43" cy="369.78" r="1.35" fill="#000"/>
<circle cx="352.43" cy="376.09" r="1.35" fill="#000"/>
<line x1="352.43" y1="366.12" x2="352.43" y2="362.96" stroke="#000" stroke-width="0.8" />
<line x1="350.23" y1="362.96" x2="354.62" y2="362.96" stroke="#000" stroke-width="0.8" />
<line x1="323.85" y1="281.50" x2="323.85" y2="408.80" stroke="#1e1e1e" stroke-width="1.2" />
<line x1="319.95" y1="408.30" x2="323.85" y2="408.30" stroke="#1e1e1e" stroke-width="1" />
<text x="319.35" y="410.64" font-size="6.5" font-weight="bold" text-anchor="end" fill="#000"  stroke="#000" stroke-width="0.2">0</text>
<line x1="319.95" y1="376.73" x2="323.85" y2="376.73" stroke="#1e1e1e" stroke-width="1" />
<text x="319.35" y="379.06" font-size="6.5" font-weight="bold" text-anchor="end" fill="#000"  stroke="#000" stroke-width="0.2">1</text>
<line x1="319.95" y1="345.15" x2="323.85" y2="345.15" stroke="#1e1e1e" stroke-width="1" />
<text x="319.35" y="347.49" font-size="6.5" font-weight="bold" text-anchor="end" fill="#000"  stroke="#000" stroke-width="0.2">2</text>
<line x1="319.95" y1="313.57" x2="323.85" y2="313.57" stroke="#1e1e1e" stroke-width="1" />
<text x="319.35" y="315.91" font-size="6.5" font-weight="bold" text-anchor="end" fill="#000"  stroke="#000" stroke-width="0.2">3</text>
<line x1="319.95" y1="282.00" x2="323.85" y2="282.00" stroke="#1e1e1e" stroke-width="1" />
<text x="319.35" y="284.34" font-size="6.5" font-weight="bold" text-anchor="end" fill="#000"  stroke="#000" stroke-width="0.2">4</text>
<line x1="323.35" y1="408.30" x2="364.85" y2="408.30" stroke="#1e1e1e" stroke-width="1" />
<line x1="335.25" y1="408.30" x2="335.25" y2="411.80" stroke="#1e1e1e" stroke-width="1" />
<text x="335.25" y="419.10" font-size="6.4" font-weight="bold" text-anchor="middle" fill="#000"  stroke="#000" stroke-width="0.2">DOM</text>
<line x1="352.35" y1="408.30" x2="352.35" y2="411.80" stroke="#1e1e1e" stroke-width="1" />
<text x="352.35" y="419.10" font-size="6.4" font-weight="bold" text-anchor="middle" fill="#000"  stroke="#000" stroke-width="0.2">SUB</text>
<text x="0" y="0" font-size="7.2" font-weight="bold" text-anchor="middle" transform="translate(311.65,345.15) rotate(-90)">Single / Neighbor</text>
<text x="261.30" y="289.90" font-size="7" font-weight="normal" text-anchor="middle" fill="#111"  stroke="#111" stroke-width="0.12">Housing&#160;&#160;###</text>
<line x1="228.30" y1="294.00" x2="293.50" y2="294.00" stroke="#555555" stroke-width="1.2" />
<polyline points="230.80,370.90 230.80,359.20 247.70,359.20 247.70,365.60" fill="none" stroke="#1e1e1e" stroke-width="1.0"/>
<polygon points="236.70,351.20 237.25,352.45 238.61,352.30 237.80,353.40 238.61,354.50 237.25,354.35 236.70,355.60 236.15,354.35 234.79,354.50 235.60,353.40 234.79,352.30 236.15,352.45" fill="#111"/>
<polygon points="241.70,351.20 242.25,352.45 243.61,352.30 242.80,353.40 243.61,354.50 242.25,354.35 241.70,355.60 241.15,354.35 239.79,354.50 240.60,353.40 239.79,352.30 241.15,352.45" fill="#111"/>
<polyline points="275.80,375.00 275.80,359.20 292.70,359.20 292.70,365.00" fill="none" stroke="#1e1e1e" stroke-width="1.0"/>
<polygon points="281.70,351.20 282.25,352.45 283.61,352.30 282.80,353.40 283.61,354.50 282.25,354.35 281.70,355.60 281.15,354.35 279.79,354.50 280.60,353.40 279.79,352.30 281.15,352.45" fill="#111"/>
<polygon points="286.70,351.20 287.25,352.45 288.61,352.30 287.80,353.40 288.61,354.50 287.25,354.35 286.70,355.60 286.15,354.35 284.79,354.50 285.60,353.40 284.79,352.30 286.15,352.45" fill="#111"/>
<rect x="39.10" y="540.50" width="9.30" height="55.80" fill="#cc0866" stroke="#000" stroke-width="1.3"/>
<rect x="56.00" y="539.93" width="9.30" height="56.37" fill="#f54cd8" stroke="#000" stroke-width="1.3"/>
<rect x="84.20" y="541.08" width="9.30" height="55.22" fill="#0000ff" stroke="#000" stroke-width="1.3"/>
<rect x="101.00" y="542.80" width="9.30" height="53.50" fill="#00ffff" stroke="#000" stroke-width="1.3"/>
<line x1="43.25" y1="526.09" x2="60.15" y2="533.43" stroke="#a8a8a8" stroke-width="0.8" />
<line x1="43.25" y1="538.94" x2="60.15" y2="527.00" stroke="#a8a8a8" stroke-width="0.8" />
<line x1="43.25" y1="540.08" x2="60.15" y2="531.13" stroke="#a8a8a8" stroke-width="0.8" />
<line x1="43.25" y1="542.84" x2="60.15" y2="545.13" stroke="#a8a8a8" stroke-width="0.8" />
<line x1="43.25" y1="548.00" x2="60.15" y2="547.54" stroke="#a8a8a8" stroke-width="0.8" />
<circle cx="43.25" cy="526.09" r="1.8" fill="none" stroke="#3a3a3a" stroke-width="0.7"/>
<rect x="58.35" y="531.63" width="3.6" height="3.6" fill="none" stroke="#3a3a3a" stroke-width="0.7"/>
<circle cx="43.25" cy="538.94" r="1.8" fill="none" stroke="#3a3a3a" stroke-width="0.7"/>
<rect x="58.35" y="525.20" width="3.6" height="3.6" fill="none" stroke="#3a3a3a" stroke-width="0.7"/>
<circle cx="43.25" cy="540.08" r="1.8" fill="none" stroke="#3a3a3a" stroke-width="0.7"/>
<rect x="58.35" y="529.33" width="3.6" height="3.6" fill="none" stroke="#3a3a3a" stroke-width="0.7"/>
<circle cx="43.25" cy="542.84" r="1.8" fill="none" stroke="#3a3a3a" stroke-width="0.7"/>
<rect x="58.35" y="543.33" width="3.6" height="3.6" fill="none" stroke="#3a3a3a" stroke-width="0.7"/>
<circle cx="43.25" cy="548.00" r="1.8" fill="none" stroke="#3a3a3a" stroke-width="0.7"/>
<rect x="58.35" y="545.74" width="3.6" height="3.6" fill="none" stroke="#3a3a3a" stroke-width="0.7"/>
<line x1="88.35" y1="531.13" x2="105.15" y2="532.28" stroke="#a8a8a8" stroke-width="0.8" />
<line x1="88.35" y1="533.20" x2="105.15" y2="550.41" stroke="#a8a8a8" stroke-width="0.8" />
<line x1="88.35" y1="542.84" x2="105.15" y2="540.43" stroke="#a8a8a8" stroke-width="0.8" />
<line x1="88.35" y1="550.98" x2="105.15" y2="555.57" stroke="#a8a8a8" stroke-width="0.8" />
<line x1="88.35" y1="538.94" x2="105.15" y2="542.38" stroke="#a8a8a8" stroke-width="0.8" />
<circle cx="88.35" cy="531.13" r="1.8" fill="none" stroke="#3a3a3a" stroke-width="0.7"/>
<rect x="103.35" y="530.48" width="3.6" height="3.6" fill="none" stroke="#3a3a3a" stroke-width="0.7"/>
<circle cx="88.35" cy="533.20" r="1.8" fill="none" stroke="#3a3a3a" stroke-width="0.7"/>
<rect x="103.35" y="548.61" width="3.6" height="3.6" fill="none" stroke="#3a3a3a" stroke-width="0.7"/>
<circle cx="88.35" cy="542.84" r="1.8" fill="none" stroke="#3a3a3a" stroke-width="0.7"/>
<rect x="103.35" y="538.63" width="3.6" height="3.6" fill="none" stroke="#3a3a3a" stroke-width="0.7"/>
<circle cx="88.35" cy="550.98" r="1.8" fill="none" stroke="#3a3a3a" stroke-width="0.7"/>
<rect x="103.35" y="553.77" width="3.6" height="3.6" fill="none" stroke="#3a3a3a" stroke-width="0.7"/>
<circle cx="88.35" cy="538.94" r="1.8" fill="none" stroke="#3a3a3a" stroke-width="0.7"/>
<rect x="103.35" y="540.58" width="3.6" height="3.6" fill="none" stroke="#3a3a3a" stroke-width="0.7"/>
<line x1="43.75" y1="539.85" x2="43.75" y2="536.87" stroke="#000" stroke-width="0.8" />
<line x1="41.75" y1="536.87" x2="45.75" y2="536.87" stroke="#000" stroke-width="0.8" />
<line x1="60.65" y1="539.28" x2="60.65" y2="535.84" stroke="#000" stroke-width="0.8" />
<line x1="58.65" y1="535.84" x2="62.65" y2="535.84" stroke="#000" stroke-width="0.8" />
<line x1="88.85" y1="540.43" x2="88.85" y2="536.87" stroke="#000" stroke-width="0.8" />
<line x1="86.85" y1="536.87" x2="90.85" y2="536.87" stroke="#000" stroke-width="0.8" />
<line x1="105.65" y1="542.15" x2="105.65" y2="538.71" stroke="#000" stroke-width="0.8" />
<line x1="103.65" y1="538.71" x2="107.65" y2="538.71" stroke="#000" stroke-width="0.8" />
<line x1="32.45" y1="469.60" x2="32.45" y2="596.80" stroke="#1e1e1e" stroke-width="1.2" />
<line x1="28.55" y1="596.30" x2="32.45" y2="596.30" stroke="#1e1e1e" stroke-width="1" />
<text x="27.95" y="598.64" font-size="6.5" font-weight="bold" text-anchor="end" fill="#000"  stroke="#000" stroke-width="0.2">0</text>
<line x1="28.55" y1="538.94" x2="32.45" y2="538.94" stroke="#1e1e1e" stroke-width="1" />
<text x="27.95" y="541.28" font-size="6.5" font-weight="bold" text-anchor="end" fill="#000"  stroke="#000" stroke-width="0.2">50</text>
<line x1="28.55" y1="481.57" x2="32.45" y2="481.57" stroke="#1e1e1e" stroke-width="1" />
<text x="27.95" y="483.91" font-size="6.5" font-weight="bold" text-anchor="end" fill="#000"  stroke="#000" stroke-width="0.2">100</text>
<line x1="31.95" y1="596.30" x2="116.75" y2="596.30" stroke="#1e1e1e" stroke-width="1" />
<line x1="51.75" y1="596.30" x2="51.75" y2="599.80" stroke="#1e1e1e" stroke-width="1" />
<text x="51.75" y="607.10" font-size="6.4" font-weight="bold" text-anchor="middle" fill="#000"  stroke="#000" stroke-width="0.2">DOM</text>
<line x1="96.75" y1="596.30" x2="96.75" y2="599.80" stroke="#1e1e1e" stroke-width="1" />
<text x="96.75" y="607.10" font-size="6.4" font-weight="bold" text-anchor="middle" fill="#000"  stroke="#000" stroke-width="0.2">SUB</text>
<text x="74.45" y="449.30" font-size="8.3" font-weight="bold" text-anchor="middle" fill="#000"  stroke="#000" stroke-width="0.2">REMS</text>
<text x="74.45" y="458.70" font-size="8.3" font-weight="bold" text-anchor="middle" fill="#000"  stroke="#000" stroke-width="0.2">(Light phase)</text>
<text x="0" y="0" font-size="7.2" font-weight="bold" text-anchor="middle" transform="translate(13.25,533.20) rotate(-90)">Amount (min/12hr)</text>
<rect x="141.05" y="564.99" width="9.45" height="31.51" fill="url(#hd)" stroke="#000" stroke-width="1.3"/>
<rect x="158.15" y="567.20" width="9.45" height="29.30" fill="url(#hs)" stroke="#000" stroke-width="1.3"/>
<circle cx="145.78" cy="555.52" r="1.35" fill="#000"/>
<circle cx="145.78" cy="558.99" r="1.35" fill="#000"/>
<circle cx="145.78" cy="567.18" r="1.35" fill="#000"/>
<line x1="145.78" y1="564.34" x2="145.78" y2="562.14" stroke="#000" stroke-width="0.8" />
<line x1="143.58" y1="562.14" x2="147.97" y2="562.14" stroke="#000" stroke-width="0.8" />
<circle cx="160.18" cy="563.08" r="1.35" fill="#000"/>
<circle cx="165.47" cy="560.56" r="1.35" fill="#000"/>
<circle cx="165.47" cy="564.03" r="1.35" fill="#000"/>
<circle cx="162.88" cy="568.76" r="1.35" fill="#000"/>
<circle cx="162.88" cy="574.43" r="1.35" fill="#000"/>
<line x1="162.88" y1="566.55" x2="162.88" y2="564.98" stroke="#000" stroke-width="0.8" />
<line x1="160.68" y1="564.98" x2="165.07" y2="564.98" stroke="#000" stroke-width="0.8" />
<line x1="134.30" y1="469.90" x2="134.30" y2="597.00" stroke="#1e1e1e" stroke-width="1.2" />
<line x1="130.40" y1="596.50" x2="134.30" y2="596.50" stroke="#1e1e1e" stroke-width="1" />
<text x="129.80" y="598.84" font-size="6.5" font-weight="bold" text-anchor="end" fill="#000"  stroke="#000" stroke-width="0.2">0</text>
<line x1="130.40" y1="564.98" x2="134.30" y2="564.98" stroke="#1e1e1e" stroke-width="1" />
<text x="129.80" y="567.32" font-size="6.5" font-weight="bold" text-anchor="end" fill="#000"  stroke="#000" stroke-width="0.2">1</text>
<line x1="130.40" y1="533.45" x2="134.30" y2="533.45" stroke="#1e1e1e" stroke-width="1" />
<text x="129.80" y="535.79" font-size="6.5" font-weight="bold" text-anchor="end" fill="#000"  stroke="#000" stroke-width="0.2">2</text>
<line x1="130.40" y1="501.92" x2="134.30" y2="501.92" stroke="#1e1e1e" stroke-width="1" />
<text x="129.80" y="504.26" font-size="6.5" font-weight="bold" text-anchor="end" fill="#000"  stroke="#000" stroke-width="0.2">3</text>
<line x1="130.40" y1="470.40" x2="134.30" y2="470.40" stroke="#1e1e1e" stroke-width="1" />
<text x="129.80" y="472.74" font-size="6.5" font-weight="bold" text-anchor="end" fill="#000"  stroke="#000" stroke-width="0.2">4</text>
<line x1="133.80" y1="596.50" x2="175.30" y2="596.50" stroke="#1e1e1e" stroke-width="1" />
<line x1="145.70" y1="596.50" x2="145.70" y2="600.00" stroke="#1e1e1e" stroke-width="1" />
<text x="145.70" y="607.30" font-size="6.4" font-weight="bold" text-anchor="middle" fill="#000"  stroke="#000" stroke-width="0.2">DOM</text>
<line x1="162.80" y1="596.50" x2="162.80" y2="600.00" stroke="#1e1e1e" stroke-width="1" />
<text x="162.80" y="607.30" font-size="6.4" font-weight="bold" text-anchor="middle" fill="#000"  stroke="#000" stroke-width="0.2">SUB</text>
<text x="0" y="0" font-size="7.2" font-weight="bold" text-anchor="middle" transform="translate(122.10,533.45) rotate(-90)">Single / Neighbor</text>
<rect x="227.95" y="583.85" width="9.30" height="12.55" fill="#cc0866" stroke="#000" stroke-width="1.3"/>
<rect x="244.85" y="580.40" width="9.30" height="16.00" fill="#f54cd8" stroke="#000" stroke-width="1.3"/>
<rect x="273.05" y="585.57" width="9.30" height="10.83" fill="#0000ff" stroke="#000" stroke-width="1.3"/>
<rect x="289.85" y="574.09" width="9.30" height="22.31" fill="#00ffff" stroke="#000" stroke-width="1.3"/>
<line x1="232.10" y1="581.47" x2="249.00" y2="571.14" stroke="#a8a8a8" stroke-width="0.8" />
<line x1="232.10" y1="582.62" x2="249.00" y2="575.73" stroke="#a8a8a8" stroke-width="0.8" />
<line x1="232.10" y1="583.77" x2="249.00" y2="581.47" stroke="#a8a8a8" stroke-width="0.8" />
<line x1="232.10" y1="584.92" x2="249.00" y2="582.62" stroke="#a8a8a8" stroke-width="0.8" />
<circle cx="232.10" cy="581.47" r="1.8" fill="none" stroke="#3a3a3a" stroke-width="0.7"/>
<rect x="247.20" y="569.34" width="3.6" height="3.6" fill="none" stroke="#3a3a3a" stroke-width="0.7"/>
<circle cx="232.10" cy="582.62" r="1.8" fill="none" stroke="#3a3a3a" stroke-width="0.7"/>
<rect x="247.20" y="573.93" width="3.6" height="3.6" fill="none" stroke="#3a3a3a" stroke-width="0.7"/>
<circle cx="232.10" cy="583.77" r="1.8" fill="none" stroke="#3a3a3a" stroke-width="0.7"/>
<rect x="247.20" y="579.67" width="3.6" height="3.6" fill="none" stroke="#3a3a3a" stroke-width="0.7"/>
<circle cx="232.10" cy="584.92" r="1.8" fill="none" stroke="#3a3a3a" stroke-width="0.7"/>
<rect x="247.20" y="580.82" width="3.6" height="3.6" fill="none" stroke="#3a3a3a" stroke-width="0.7"/>
<line x1="277.20" y1="576.88" x2="294.00" y2="563.10" stroke="#a8a8a8" stroke-width="0.8" />
<line x1="277.20" y1="580.33" x2="294.00" y2="567.70" stroke="#a8a8a8" stroke-width="0.8" />
<line x1="277.20" y1="584.92" x2="294.00" y2="573.44" stroke="#a8a8a8" stroke-width="0.8" />
<line x1="277.20" y1="587.21" x2="294.00" y2="576.88" stroke="#a8a8a8" stroke-width="0.8" />
<line x1="277.20" y1="589.51" x2="294.00" y2="582.62" stroke="#a8a8a8" stroke-width="0.8" />
<circle cx="277.20" cy="576.88" r="1.8" fill="none" stroke="#3a3a3a" stroke-width="0.7"/>
<rect x="292.20" y="561.30" width="3.6" height="3.6" fill="none" stroke="#3a3a3a" stroke-width="0.7"/>
<circle cx="277.20" cy="580.33" r="1.8" fill="none" stroke="#3a3a3a" stroke-width="0.7"/>
<rect x="292.20" y="565.90" width="3.6" height="3.6" fill="none" stroke="#3a3a3a" stroke-width="0.7"/>
<circle cx="277.20" cy="584.92" r="1.8" fill="none" stroke="#3a3a3a" stroke-width="0.7"/>
<rect x="292.20" y="571.64" width="3.6" height="3.6" fill="none" stroke="#3a3a3a" stroke-width="0.7"/>
<circle cx="277.20" cy="587.21" r="1.8" fill="none" stroke="#3a3a3a" stroke-width="0.7"/>
<rect x="292.20" y="575.08" width="3.6" height="3.6" fill="none" stroke="#3a3a3a" stroke-width="0.7"/>
<circle cx="277.20" cy="589.51" r="1.8" fill="none" stroke="#3a3a3a" stroke-width="0.7"/>
<rect x="292.20" y="580.82" width="3.6" height="3.6" fill="none" stroke="#3a3a3a" stroke-width="0.7"/>
<line x1="232.60" y1="583.20" x2="232.60" y2="581.47" stroke="#000" stroke-width="0.8" />
<line x1="230.60" y1="581.47" x2="234.60" y2="581.47" stroke="#000" stroke-width="0.8" />
<line x1="249.50" y1="579.75" x2="249.50" y2="576.88" stroke="#000" stroke-width="0.8" />
<line x1="247.50" y1="576.88" x2="251.50" y2="576.88" stroke="#000" stroke-width="0.8" />
<line x1="277.70" y1="584.92" x2="277.70" y2="583.20" stroke="#000" stroke-width="0.8" />
<line x1="275.70" y1="583.20" x2="279.70" y2="583.20" stroke="#000" stroke-width="0.8" />
<line x1="294.50" y1="573.44" x2="294.50" y2="569.99" stroke="#000" stroke-width="0.8" />
<line x1="292.50" y1="569.99" x2="296.50" y2="569.99" stroke="#000" stroke-width="0.8" />
<line x1="221.30" y1="469.60" x2="221.30" y2="596.90" stroke="#1e1e1e" stroke-width="1.2" />
<line x1="217.40" y1="596.40" x2="221.30" y2="596.40" stroke="#1e1e1e" stroke-width="1" />
<text x="216.80" y="598.74" font-size="6.5" font-weight="bold" text-anchor="end" fill="#000"  stroke="#000" stroke-width="0.2">0</text>
<line x1="217.40" y1="538.99" x2="221.30" y2="538.99" stroke="#1e1e1e" stroke-width="1" />
<text x="216.80" y="541.33" font-size="6.5" font-weight="bold" text-anchor="end" fill="#000"  stroke="#000" stroke-width="0.2">50</text>
<line x1="217.40" y1="481.58" x2="221.30" y2="481.58" stroke="#1e1e1e" stroke-width="1" />
<text x="216.80" y="483.92" font-size="6.5" font-weight="bold" text-anchor="end" fill="#000"  stroke="#000" stroke-width="0.2">100</text>
<line x1="220.80" y1="596.40" x2="305.60" y2="596.40" stroke="#1e1e1e" stroke-width="1" />
<line x1="240.60" y1="596.40" x2="240.60" y2="599.90" stroke="#1e1e1e" stroke-width="1" />
<text x="240.60" y="607.20" font-size="6.4" font-weight="bold" text-anchor="middle" fill="#000"  stroke="#000" stroke-width="0.2">DOM</text>
<line x1="285.60" y1="596.40" x2="285.60" y2="599.90" stroke="#1e1e1e" stroke-width="1" />
<text x="285.60" y="607.20" font-size="6.4" font-weight="bold" text-anchor="middle" fill="#000"  stroke="#000" stroke-width="0.2">SUB</text>
<text x="263.30" y="449.30" font-size="8.3" font-weight="bold" text-anchor="middle" fill="#000"  stroke="#000" stroke-width="0.2">REMS</text>
<text x="263.30" y="458.70" font-size="8.3" font-weight="bold" text-anchor="middle" fill="#000"  stroke="#000" stroke-width="0.2">(Dark phase)</text>
<text x="0" y="0" font-size="7.2" font-weight="bold" text-anchor="middle" transform="translate(202.10,533.25) rotate(-90)">Amount (min/12hr)</text>
<rect x="329.75" y="556.82" width="9.45" height="39.48" fill="url(#hd)" stroke="#000" stroke-width="1.3"/>
<rect x="346.85" y="532.17" width="9.45" height="64.13" fill="url(#hs)" stroke="#000" stroke-width="1.3"/>
<circle cx="334.48" cy="529.94" r="1.35" fill="#000"/>
<circle cx="332.48" cy="558.38" r="1.35" fill="#000"/>
<circle cx="336.48" cy="563.12" r="1.35" fill="#000"/>
<circle cx="334.48" cy="566.28" r="1.35" fill="#000"/>
<line x1="334.48" y1="556.17" x2="334.48" y2="550.80" stroke="#000" stroke-width="0.8" />
<line x1="332.28" y1="550.80" x2="336.68" y2="550.80" stroke="#000" stroke-width="0.8" />
<circle cx="351.57" cy="506.87" r="1.35" fill="#000"/>
<circle cx="353.57" cy="533.10" r="1.35" fill="#000"/>
<circle cx="349.57" cy="537.84" r="1.35" fill="#000"/>
<circle cx="351.57" cy="547.32" r="1.35" fill="#000"/>
<line x1="351.57" y1="531.52" x2="351.57" y2="525.83" stroke="#000" stroke-width="0.8" />
<line x1="349.38" y1="525.83" x2="353.77" y2="525.83" stroke="#000" stroke-width="0.8" />
<line x1="323.00" y1="469.40" x2="323.00" y2="596.80" stroke="#1e1e1e" stroke-width="1.2" />
<line x1="319.10" y1="596.30" x2="323.00" y2="596.30" stroke="#1e1e1e" stroke-width="1" />
<text x="318.50" y="598.64" font-size="6.5" font-weight="bold" text-anchor="end" fill="#000"  stroke="#000" stroke-width="0.2">0</text>
<line x1="319.10" y1="564.70" x2="323.00" y2="564.70" stroke="#1e1e1e" stroke-width="1" />
<text x="318.50" y="567.04" font-size="6.5" font-weight="bold" text-anchor="end" fill="#000"  stroke="#000" stroke-width="0.2">1</text>
<line x1="319.10" y1="533.10" x2="323.00" y2="533.10" stroke="#1e1e1e" stroke-width="1" />
<text x="318.50" y="535.44" font-size="6.5" font-weight="bold" text-anchor="end" fill="#000"  stroke="#000" stroke-width="0.2">2</text>
<line x1="319.10" y1="501.50" x2="323.00" y2="501.50" stroke="#1e1e1e" stroke-width="1" />
<text x="318.50" y="503.84" font-size="6.5" font-weight="bold" text-anchor="end" fill="#000"  stroke="#000" stroke-width="0.2">3</text>
<line x1="319.10" y1="469.90" x2="323.00" y2="469.90" stroke="#1e1e1e" stroke-width="1" />
<text x="318.50" y="472.24" font-size="6.5" font-weight="bold" text-anchor="end" fill="#000"  stroke="#000" stroke-width="0.2">4</text>
<line x1="322.50" y1="596.30" x2="364.00" y2="596.30" stroke="#1e1e1e" stroke-width="1" />
<line x1="334.40" y1="596.30" x2="334.40" y2="599.80" stroke="#1e1e1e" stroke-width="1" />
<text x="334.40" y="607.10" font-size="6.4" font-weight="bold" text-anchor="middle" fill="#000"  stroke="#000" stroke-width="0.2">DOM</text>
<line x1="351.50" y1="596.30" x2="351.50" y2="599.80" stroke="#1e1e1e" stroke-width="1" />
<text x="351.50" y="607.10" font-size="6.4" font-weight="bold" text-anchor="middle" fill="#000"  stroke="#000" stroke-width="0.2">SUB</text>
<text x="0" y="0" font-size="7.2" font-weight="bold" text-anchor="middle" transform="translate(310.80,533.10) rotate(-90)">Single / Neighbor</text>
<text x="263.10" y="483.80" font-size="7" font-weight="normal" text-anchor="middle" fill="#111"  stroke="#111" stroke-width="0.12">Rank × Housing&#160;&#160;#</text>
<text x="263.10" y="491.90" font-size="7" font-weight="normal" text-anchor="middle" fill="#111"  stroke="#111" stroke-width="0.12">Housing&#160;&#160;###</text>
<line x1="230.10" y1="495.80" x2="295.30" y2="495.80" stroke="#555555" stroke-width="1.2" />
<polyline points="277.60,571.60 277.60,553.50 294.50,553.50 294.50,557.60" fill="none" stroke="#1e1e1e" stroke-width="1.0"/>
<polygon points="281.00,545.00 281.55,546.25 282.91,546.10 282.10,547.20 282.91,548.30 281.55,548.15 281.00,549.40 280.45,548.15 279.09,548.30 279.90,547.20 279.09,546.10 280.45,546.25" fill="#111"/>
<polygon points="286.00,545.00 286.55,546.25 287.91,546.10 287.10,547.20 287.91,548.30 286.55,548.15 286.00,549.40 285.45,548.15 284.09,548.30 284.90,547.20 284.09,546.10 285.45,546.25" fill="#111"/>
<polygon points="291.00,545.00 291.55,546.25 292.91,546.10 292.10,547.20 292.91,548.30 291.55,548.15 291.00,549.40 290.45,548.15 289.09,548.30 289.90,547.20 289.09,546.10 290.45,546.25" fill="#111"/>
<polyline points="334.40,517.70 334.40,494.10 351.50,494.10 351.50,499.10" fill="none" stroke="#808080" stroke-width="1.3"/>
<text x="342.90" y="490.60" font-size="7" font-weight="normal" text-anchor="middle" fill="#000"  stroke="#000" stroke-width="0.12">†</text>
<rect x="37.85" y="716.33" width="9.30" height="68.87" fill="#cc0866" stroke="#000" stroke-width="1.3"/>
<rect x="54.75" y="715.70" width="9.30" height="69.50" fill="#f54cd8" stroke="#000" stroke-width="1.3"/>
<rect x="82.95" y="717.59" width="9.30" height="67.61" fill="#0000ff" stroke="#000" stroke-width="1.3"/>
<rect x="99.75" y="718.23" width="9.30" height="66.97" fill="#00ffff" stroke="#000" stroke-width="1.3"/>
<line x1="42.00" y1="701.78" x2="58.90" y2="707.46" stroke="#a8a8a8" stroke-width="0.8" />
<line x1="42.00" y1="712.20" x2="58.90" y2="705.19" stroke="#a8a8a8" stroke-width="0.8" />
<line x1="42.00" y1="715.68" x2="58.90" y2="709.99" stroke="#a8a8a8" stroke-width="0.8" />
<line x1="42.00" y1="718.02" x2="58.90" y2="718.59" stroke="#a8a8a8" stroke-width="0.8" />
<line x1="42.00" y1="721.56" x2="58.90" y2="723.90" stroke="#a8a8a8" stroke-width="0.8" />
<line x1="42.00" y1="724.53" x2="58.90" y2="726.80" stroke="#a8a8a8" stroke-width="0.8" />
<circle cx="42.00" cy="701.78" r="1.8" fill="none" stroke="#3a3a3a" stroke-width="0.7"/>
<rect x="57.10" y="705.66" width="3.6" height="3.6" fill="none" stroke="#3a3a3a" stroke-width="0.7"/>
<circle cx="42.00" cy="712.20" r="1.8" fill="none" stroke="#3a3a3a" stroke-width="0.7"/>
<rect x="57.10" y="703.39" width="3.6" height="3.6" fill="none" stroke="#3a3a3a" stroke-width="0.7"/>
<circle cx="42.00" cy="715.68" r="1.8" fill="none" stroke="#3a3a3a" stroke-width="0.7"/>
<rect x="57.10" y="708.19" width="3.6" height="3.6" fill="none" stroke="#3a3a3a" stroke-width="0.7"/>
<circle cx="42.00" cy="718.02" r="1.8" fill="none" stroke="#3a3a3a" stroke-width="0.7"/>
<rect x="57.10" y="716.79" width="3.6" height="3.6" fill="none" stroke="#3a3a3a" stroke-width="0.7"/>
<circle cx="42.00" cy="721.56" r="1.8" fill="none" stroke="#3a3a3a" stroke-width="0.7"/>
<rect x="57.10" y="722.10" width="3.6" height="3.6" fill="none" stroke="#3a3a3a" stroke-width="0.7"/>
<circle cx="42.00" cy="724.53" r="1.8" fill="none" stroke="#3a3a3a" stroke-width="0.7"/>
<rect x="57.10" y="725.00" width="3.6" height="3.6" fill="none" stroke="#3a3a3a" stroke-width="0.7"/>
<line x1="87.10" y1="708.10" x2="103.90" y2="704.62" stroke="#a8a8a8" stroke-width="0.8" />
<line x1="87.10" y1="711.57" x2="103.90" y2="708.10" stroke="#a8a8a8" stroke-width="0.8" />
<line x1="87.10" y1="716.31" x2="103.90" y2="712.20" stroke="#a8a8a8" stroke-width="0.8" />
<line x1="87.10" y1="718.02" x2="103.90" y2="714.48" stroke="#a8a8a8" stroke-width="0.8" />
<line x1="87.10" y1="716.94" x2="103.90" y2="729.08" stroke="#a8a8a8" stroke-width="0.8" />
<line x1="87.10" y1="730.28" x2="103.90" y2="737.29" stroke="#a8a8a8" stroke-width="0.8" />
<circle cx="87.10" cy="708.10" r="1.8" fill="none" stroke="#3a3a3a" stroke-width="0.7"/>
<rect x="102.10" y="702.82" width="3.6" height="3.6" fill="none" stroke="#3a3a3a" stroke-width="0.7"/>
<circle cx="87.10" cy="711.57" r="1.8" fill="none" stroke="#3a3a3a" stroke-width="0.7"/>
<rect x="102.10" y="706.30" width="3.6" height="3.6" fill="none" stroke="#3a3a3a" stroke-width="0.7"/>
<circle cx="87.10" cy="716.31" r="1.8" fill="none" stroke="#3a3a3a" stroke-width="0.7"/>
<rect x="102.10" y="710.40" width="3.6" height="3.6" fill="none" stroke="#3a3a3a" stroke-width="0.7"/>
<circle cx="87.10" cy="718.02" r="1.8" fill="none" stroke="#3a3a3a" stroke-width="0.7"/>
<rect x="102.10" y="712.68" width="3.6" height="3.6" fill="none" stroke="#3a3a3a" stroke-width="0.7"/>
<circle cx="87.10" cy="716.94" r="1.8" fill="none" stroke="#3a3a3a" stroke-width="0.7"/>
<rect x="102.10" y="727.28" width="3.6" height="3.6" fill="none" stroke="#3a3a3a" stroke-width="0.7"/>
<circle cx="87.10" cy="730.28" r="1.8" fill="none" stroke="#3a3a3a" stroke-width="0.7"/>
<rect x="102.10" y="735.49" width="3.6" height="3.6" fill="none" stroke="#3a3a3a" stroke-width="0.7"/>
<line x1="42.50" y1="715.68" x2="42.50" y2="713.15" stroke="#000" stroke-width="0.8" />
<line x1="40.50" y1="713.15" x2="44.50" y2="713.15" stroke="#000" stroke-width="0.8" />
<line x1="59.40" y1="715.05" x2="59.40" y2="711.89" stroke="#000" stroke-width="0.8" />
<line x1="57.40" y1="711.89" x2="61.40" y2="711.89" stroke="#000" stroke-width="0.8" />
<line x1="87.60" y1="716.94" x2="87.60" y2="714.42" stroke="#000" stroke-width="0.8" />
<line x1="85.60" y1="714.42" x2="89.60" y2="714.42" stroke="#000" stroke-width="0.8" />
<line x1="104.40" y1="717.58" x2="104.40" y2="713.78" stroke="#000" stroke-width="0.8" />
<line x1="102.40" y1="713.78" x2="106.40" y2="713.78" stroke="#000" stroke-width="0.8" />
<line x1="31.20" y1="658.30" x2="31.20" y2="785.70" stroke="#1e1e1e" stroke-width="1.2" />
<line x1="27.30" y1="785.20" x2="31.20" y2="785.20" stroke="#1e1e1e" stroke-width="1" />
<text x="26.70" y="787.54" font-size="6.5" font-weight="bold" text-anchor="end" fill="#000"  stroke="#000" stroke-width="0.2">0</text>
<line x1="27.30" y1="753.60" x2="31.20" y2="753.60" stroke="#1e1e1e" stroke-width="1" />
<text x="26.70" y="755.94" font-size="6.5" font-weight="bold" text-anchor="end" fill="#000"  stroke="#000" stroke-width="0.2">5</text>
<line x1="27.30" y1="722.00" x2="31.20" y2="722.00" stroke="#1e1e1e" stroke-width="1" />
<text x="26.70" y="724.34" font-size="6.5" font-weight="bold" text-anchor="end" fill="#000"  stroke="#000" stroke-width="0.2">10</text>
<line x1="27.30" y1="690.40" x2="31.20" y2="690.40" stroke="#1e1e1e" stroke-width="1" />
<text x="26.70" y="692.74" font-size="6.5" font-weight="bold" text-anchor="end" fill="#000"  stroke="#000" stroke-width="0.2">15</text>
<line x1="27.30" y1="658.80" x2="31.20" y2="658.80" stroke="#1e1e1e" stroke-width="1" />
<text x="26.70" y="661.14" font-size="6.5" font-weight="bold" text-anchor="end" fill="#000"  stroke="#000" stroke-width="0.2">20</text>
<line x1="30.70" y1="785.20" x2="115.50" y2="785.20" stroke="#1e1e1e" stroke-width="1" />
<line x1="50.50" y1="785.20" x2="50.50" y2="788.70" stroke="#1e1e1e" stroke-width="1" />
<text x="50.50" y="796.00" font-size="6.4" font-weight="bold" text-anchor="middle" fill="#000"  stroke="#000" stroke-width="0.2">DOM</text>
<line x1="95.50" y1="785.20" x2="95.50" y2="788.70" stroke="#1e1e1e" stroke-width="1" />
<text x="95.50" y="796.00" font-size="6.4" font-weight="bold" text-anchor="middle" fill="#000"  stroke="#000" stroke-width="0.2">SUB</text>
<text x="73.20" y="638.00" font-size="8.3" font-weight="bold" text-anchor="middle" fill="#000"  stroke="#000" stroke-width="0.2">REMS / Total sleep</text>
<text x="73.20" y="647.40" font-size="8.3" font-weight="bold" text-anchor="middle" fill="#000"  stroke="#000" stroke-width="0.2">(Light phase)</text>
<text x="0" y="0" font-size="7.2" font-weight="bold" text-anchor="middle" transform="translate(15.20,722.00) rotate(-90)">(%)</text>
<rect x="141.05" y="754.10" width="9.45" height="30.20" fill="url(#hd)" stroke="#000" stroke-width="1.3"/>
<rect x="158.15" y="754.73" width="9.45" height="29.57" fill="url(#hs)" stroke="#000" stroke-width="1.3"/>
<circle cx="144.18" cy="748.20" r="1.35" fill="#000"/>
<circle cx="147.47" cy="748.20" r="1.35" fill="#000"/>
<circle cx="142.78" cy="755.03" r="1.35" fill="#000"/>
<circle cx="148.28" cy="755.34" r="1.35" fill="#000"/>
<line x1="145.78" y1="753.45" x2="145.78" y2="751.41" stroke="#000" stroke-width="0.8" />
<line x1="143.58" y1="751.41" x2="147.97" y2="751.41" stroke="#000" stroke-width="0.8" />
<circle cx="158.18" cy="751.09" r="1.35" fill="#000"/>
<circle cx="162.88" cy="750.50" r="1.35" fill="#000"/>
<circle cx="167.47" cy="748.42" r="1.35" fill="#000"/>
<circle cx="167.47" cy="751.88" r="1.35" fill="#000"/>
<circle cx="162.88" cy="757.23" r="1.35" fill="#000"/>
<circle cx="162.88" cy="760.69" r="1.35" fill="#000"/>
<line x1="162.88" y1="754.08" x2="162.88" y2="752.82" stroke="#000" stroke-width="0.8" />
<line x1="160.68" y1="752.82" x2="165.07" y2="752.82" stroke="#000" stroke-width="0.8" />
<line x1="134.30" y1="657.90" x2="134.30" y2="784.80" stroke="#1e1e1e" stroke-width="1.2" />
<line x1="130.40" y1="784.30" x2="134.30" y2="784.30" stroke="#1e1e1e" stroke-width="1" />
<text x="129.80" y="786.64" font-size="6.5" font-weight="bold" text-anchor="end" fill="#000"  stroke="#000" stroke-width="0.2">0</text>
<line x1="130.40" y1="752.82" x2="134.30" y2="752.82" stroke="#1e1e1e" stroke-width="1" />
<text x="129.80" y="755.16" font-size="6.5" font-weight="bold" text-anchor="end" fill="#000"  stroke="#000" stroke-width="0.2">1</text>
<line x1="130.40" y1="721.35" x2="134.30" y2="721.35" stroke="#1e1e1e" stroke-width="1" />
<text x="129.80" y="723.69" font-size="6.5" font-weight="bold" text-anchor="end" fill="#000"  stroke="#000" stroke-width="0.2">2</text>
<line x1="130.40" y1="689.88" x2="134.30" y2="689.88" stroke="#1e1e1e" stroke-width="1" />
<text x="129.80" y="692.22" font-size="6.5" font-weight="bold" text-anchor="end" fill="#000"  stroke="#000" stroke-width="0.2">3</text>
<line x1="130.40" y1="658.40" x2="134.30" y2="658.40" stroke="#1e1e1e" stroke-width="1" />
<text x="129.80" y="660.74" font-size="6.5" font-weight="bold" text-anchor="end" fill="#000"  stroke="#000" stroke-width="0.2">4</text>
<line x1="133.80" y1="784.30" x2="175.30" y2="784.30" stroke="#1e1e1e" stroke-width="1" />
<line x1="145.70" y1="784.30" x2="145.70" y2="787.80" stroke="#1e1e1e" stroke-width="1" />
<text x="145.70" y="795.10" font-size="6.4" font-weight="bold" text-anchor="middle" fill="#000"  stroke="#000" stroke-width="0.2">DOM</text>
<line x1="162.80" y1="784.30" x2="162.80" y2="787.80" stroke="#1e1e1e" stroke-width="1" />
<text x="162.80" y="795.10" font-size="6.4" font-weight="bold" text-anchor="middle" fill="#000"  stroke="#000" stroke-width="0.2">SUB</text>
<text x="0" y="0" font-size="7.2" font-weight="bold" text-anchor="middle" transform="translate(122.10,721.35) rotate(-90)">Single / Neighbor</text>
<rect x="226.35" y="747.85" width="9.30" height="36.55" fill="#cc0866" stroke="#000" stroke-width="1.3"/>
<rect x="243.25" y="751.00" width="9.30" height="33.40" fill="#f54cd8" stroke="#000" stroke-width="1.3"/>
<rect x="271.45" y="754.34" width="9.30" height="30.06" fill="#0000ff" stroke="#000" stroke-width="1.3"/>
<rect x="288.25" y="737.95" width="9.30" height="46.45" fill="#00ffff" stroke="#000" stroke-width="1.3"/>
<line x1="230.50" y1="736.73" x2="247.40" y2="749.60" stroke="#a8a8a8" stroke-width="0.8" />
<line x1="230.50" y1="739.13" x2="247.40" y2="743.73" stroke="#a8a8a8" stroke-width="0.8" />
<line x1="230.50" y1="747.20" x2="247.40" y2="733.83" stroke="#a8a8a8" stroke-width="0.8" />
<line x1="230.50" y1="752.88" x2="247.40" y2="753.69" stroke="#a8a8a8" stroke-width="0.8" />
<line x1="230.50" y1="757.79" x2="247.40" y2="763.59" stroke="#a8a8a8" stroke-width="0.8" />
<circle cx="230.50" cy="736.73" r="1.8" fill="none" stroke="#3a3a3a" stroke-width="0.7"/>
<rect x="245.60" y="747.80" width="3.6" height="3.6" fill="none" stroke="#3a3a3a" stroke-width="0.7"/>
<circle cx="230.50" cy="739.13" r="1.8" fill="none" stroke="#3a3a3a" stroke-width="0.7"/>
<rect x="245.60" y="741.93" width="3.6" height="3.6" fill="none" stroke="#3a3a3a" stroke-width="0.7"/>
<circle cx="230.50" cy="747.20" r="1.8" fill="none" stroke="#3a3a3a" stroke-width="0.7"/>
<rect x="245.60" y="732.03" width="3.6" height="3.6" fill="none" stroke="#3a3a3a" stroke-width="0.7"/>
<circle cx="230.50" cy="752.88" r="1.8" fill="none" stroke="#3a3a3a" stroke-width="0.7"/>
<rect x="245.60" y="751.89" width="3.6" height="3.6" fill="none" stroke="#3a3a3a" stroke-width="0.7"/>
<circle cx="230.50" cy="757.79" r="1.8" fill="none" stroke="#3a3a3a" stroke-width="0.7"/>
<rect x="245.60" y="761.79" width="3.6" height="3.6" fill="none" stroke="#3a3a3a" stroke-width="0.7"/>
<line x1="275.60" y1="736.73" x2="292.40" y2="713.41" stroke="#a8a8a8" stroke-width="0.8" />
<line x1="275.60" y1="739.63" x2="292.40" y2="715.86" stroke="#a8a8a8" stroke-width="0.8" />
<line x1="275.60" y1="749.09" x2="292.40" y2="735.60" stroke="#a8a8a8" stroke-width="0.8" />
<line x1="275.60" y1="763.59" x2="292.40" y2="750.67" stroke="#a8a8a8" stroke-width="0.8" />
<line x1="275.60" y1="765.49" x2="292.40" y2="754.26" stroke="#a8a8a8" stroke-width="0.8" />
<circle cx="275.60" cy="736.73" r="1.8" fill="none" stroke="#3a3a3a" stroke-width="0.7"/>
<rect x="290.60" y="711.61" width="3.6" height="3.6" fill="none" stroke="#3a3a3a" stroke-width="0.7"/>
<circle cx="275.60" cy="739.63" r="1.8" fill="none" stroke="#3a3a3a" stroke-width="0.7"/>
<rect x="290.60" y="714.06" width="3.6" height="3.6" fill="none" stroke="#3a3a3a" stroke-width="0.7"/>
<circle cx="275.60" cy="749.09" r="1.8" fill="none" stroke="#3a3a3a" stroke-width="0.7"/>
<rect x="290.60" y="733.80" width="3.6" height="3.6" fill="none" stroke="#3a3a3a" stroke-width="0.7"/>
<circle cx="275.60" cy="763.59" r="1.8" fill="none" stroke="#3a3a3a" stroke-width="0.7"/>
<rect x="290.60" y="748.87" width="3.6" height="3.6" fill="none" stroke="#3a3a3a" stroke-width="0.7"/>
<circle cx="275.60" cy="765.49" r="1.8" fill="none" stroke="#3a3a3a" stroke-width="0.7"/>
<rect x="290.60" y="752.46" width="3.6" height="3.6" fill="none" stroke="#3a3a3a" stroke-width="0.7"/>
<line x1="231.00" y1="747.20" x2="231.00" y2="743.73" stroke="#000" stroke-width="0.8" />
<line x1="229.00" y1="743.73" x2="233.00" y2="743.73" stroke="#000" stroke-width="0.8" />
<line x1="247.90" y1="750.35" x2="247.90" y2="746.57" stroke="#000" stroke-width="0.8" />
<line x1="245.90" y1="746.57" x2="249.90" y2="746.57" stroke="#000" stroke-width="0.8" />
<line x1="276.10" y1="753.69" x2="276.10" y2="750.54" stroke="#000" stroke-width="0.8" />
<line x1="274.10" y1="750.54" x2="278.10" y2="750.54" stroke="#000" stroke-width="0.8" />
<line x1="292.90" y1="737.30" x2="292.90" y2="729.74" stroke="#000" stroke-width="0.8" />
<line x1="290.90" y1="729.74" x2="294.90" y2="729.74" stroke="#000" stroke-width="0.8" />
<line x1="219.70" y1="657.80" x2="219.70" y2="784.90" stroke="#1e1e1e" stroke-width="1.2" />
<line x1="215.80" y1="784.40" x2="219.70" y2="784.40" stroke="#1e1e1e" stroke-width="1" />
<text x="215.20" y="786.74" font-size="6.5" font-weight="bold" text-anchor="end" fill="#000"  stroke="#000" stroke-width="0.2">0</text>
<line x1="215.80" y1="752.88" x2="219.70" y2="752.88" stroke="#1e1e1e" stroke-width="1" />
<text x="215.20" y="755.22" font-size="6.5" font-weight="bold" text-anchor="end" fill="#000"  stroke="#000" stroke-width="0.2">5</text>
<line x1="215.80" y1="721.35" x2="219.70" y2="721.35" stroke="#1e1e1e" stroke-width="1" />
<text x="215.20" y="723.69" font-size="6.5" font-weight="bold" text-anchor="end" fill="#000"  stroke="#000" stroke-width="0.2">10</text>
<line x1="215.80" y1="689.82" x2="219.70" y2="689.82" stroke="#1e1e1e" stroke-width="1" />
<text x="215.20" y="692.16" font-size="6.5" font-weight="bold" text-anchor="end" fill="#000"  stroke="#000" stroke-width="0.2">15</text>
<line x1="215.80" y1="658.30" x2="219.70" y2="658.30" stroke="#1e1e1e" stroke-width="1" />
<text x="215.20" y="660.64" font-size="6.5" font-weight="bold" text-anchor="end" fill="#000"  stroke="#000" stroke-width="0.2">20</text>
<line x1="219.20" y1="784.40" x2="304.00" y2="784.40" stroke="#1e1e1e" stroke-width="1" />
<line x1="239.00" y1="784.40" x2="239.00" y2="787.90" stroke="#1e1e1e" stroke-width="1" />
<text x="239.00" y="795.20" font-size="6.4" font-weight="bold" text-anchor="middle" fill="#000"  stroke="#000" stroke-width="0.2">DOM</text>
<line x1="284.00" y1="784.40" x2="284.00" y2="787.90" stroke="#1e1e1e" stroke-width="1" />
<text x="284.00" y="795.20" font-size="6.4" font-weight="bold" text-anchor="middle" fill="#000"  stroke="#000" stroke-width="0.2">SUB</text>
<text x="261.70" y="637.50" font-size="8.3" font-weight="bold" text-anchor="middle" fill="#000"  stroke="#000" stroke-width="0.2">REMS / Total sleep</text>
<text x="261.70" y="646.90" font-size="8.3" font-weight="bold" text-anchor="middle" fill="#000"  stroke="#000" stroke-width="0.2">(Dark phase)</text>
<text x="0" y="0" font-size="7.2" font-weight="bold" text-anchor="middle" transform="translate(203.70,721.35) rotate(-90)">(%)</text>
<rect x="329.65" y="755.78" width="9.45" height="28.62" fill="url(#hd)" stroke="#000" stroke-width="1.3"/>
<rect x="346.75" y="736.26" width="9.45" height="48.14" fill="url(#hs)" stroke="#000" stroke-width="1.3"/>
<circle cx="334.38" cy="742.54" r="1.35" fill="#000"/>
<circle cx="332.38" cy="752.92" r="1.35" fill="#000"/>
<circle cx="336.38" cy="757.65" r="1.35" fill="#000"/>
<circle cx="334.38" cy="760.79" r="1.35" fill="#000"/>
<line x1="334.38" y1="755.13" x2="334.38" y2="752.61" stroke="#000" stroke-width="0.8" />
<line x1="332.18" y1="752.61" x2="336.57" y2="752.61" stroke="#000" stroke-width="0.8" />
<circle cx="351.47" cy="727.75" r="1.35" fill="#000"/>
<circle cx="351.47" cy="730.58" r="1.35" fill="#000"/>
<circle cx="348.97" cy="738.76" r="1.35" fill="#000"/>
<circle cx="353.97" cy="737.19" r="1.35" fill="#000"/>
<line x1="351.47" y1="735.61" x2="351.47" y2="733.41" stroke="#000" stroke-width="0.8" />
<line x1="349.27" y1="733.41" x2="353.67" y2="733.41" stroke="#000" stroke-width="0.8" />
<line x1="322.90" y1="658.00" x2="322.90" y2="784.90" stroke="#1e1e1e" stroke-width="1.2" />
<line x1="319.00" y1="784.40" x2="322.90" y2="784.40" stroke="#1e1e1e" stroke-width="1" />
<text x="318.40" y="786.74" font-size="6.5" font-weight="bold" text-anchor="end" fill="#000"  stroke="#000" stroke-width="0.2">0</text>
<line x1="319.00" y1="752.92" x2="322.90" y2="752.92" stroke="#1e1e1e" stroke-width="1" />
<text x="318.40" y="755.26" font-size="6.5" font-weight="bold" text-anchor="end" fill="#000"  stroke="#000" stroke-width="0.2">1</text>
<line x1="319.00" y1="721.45" x2="322.90" y2="721.45" stroke="#1e1e1e" stroke-width="1" />
<text x="318.40" y="723.79" font-size="6.5" font-weight="bold" text-anchor="end" fill="#000"  stroke="#000" stroke-width="0.2">2</text>
<line x1="319.00" y1="689.98" x2="322.90" y2="689.98" stroke="#1e1e1e" stroke-width="1" />
<text x="318.40" y="692.32" font-size="6.5" font-weight="bold" text-anchor="end" fill="#000"  stroke="#000" stroke-width="0.2">3</text>
<line x1="319.00" y1="658.50" x2="322.90" y2="658.50" stroke="#1e1e1e" stroke-width="1" />
<text x="318.40" y="660.84" font-size="6.5" font-weight="bold" text-anchor="end" fill="#000"  stroke="#000" stroke-width="0.2">4</text>
<line x1="322.40" y1="784.40" x2="363.90" y2="784.40" stroke="#1e1e1e" stroke-width="1" />
<line x1="334.30" y1="784.40" x2="334.30" y2="787.90" stroke="#1e1e1e" stroke-width="1" />
<text x="334.30" y="795.20" font-size="6.4" font-weight="bold" text-anchor="middle" fill="#000"  stroke="#000" stroke-width="0.2">DOM</text>
<line x1="351.40" y1="784.40" x2="351.40" y2="787.90" stroke="#1e1e1e" stroke-width="1" />
<text x="351.40" y="795.20" font-size="6.4" font-weight="bold" text-anchor="middle" fill="#000"  stroke="#000" stroke-width="0.2">SUB</text>
<text x="0" y="0" font-size="7.2" font-weight="bold" text-anchor="middle" transform="translate(310.70,721.45) rotate(-90)">Single / Neighbor</text>
<text x="261.50" y="672.00" font-size="7" font-weight="normal" text-anchor="middle" fill="#111"  stroke="#111" stroke-width="0.12">Rank × Housing&#160;&#160;##</text>
<text x="261.50" y="680.10" font-size="7" font-weight="normal" text-anchor="middle" fill="#111"  stroke="#111" stroke-width="0.12">Housing&#160;&#160;#</text>
<line x1="228.50" y1="684.00" x2="293.70" y2="684.00" stroke="#555555" stroke-width="1.2" />
<polyline points="276.00,731.30 276.00,703.30 292.90,703.30 292.90,708.50" fill="none" stroke="#1e1e1e" stroke-width="1.0"/>
<polygon points="279.40,695.60 279.95,696.85 281.31,696.70 280.50,697.80 281.31,698.90 279.95,698.75 279.40,700.00 278.85,698.75 277.49,698.90 278.30,697.80 277.49,696.70 278.85,696.85" fill="#111"/>
<polygon points="284.40,695.60 284.95,696.85 286.31,696.70 285.50,697.80 286.31,698.90 284.95,698.75 284.40,700.00 283.85,698.75 282.49,698.90 283.30,697.80 282.49,696.70 283.85,696.85" fill="#111"/>
<polygon points="289.40,695.60 289.95,696.85 291.31,696.70 290.50,697.80 291.31,698.90 289.95,698.75 289.40,700.00 288.85,698.75 287.49,698.90 288.30,697.80 287.49,696.70 288.85,696.85" fill="#111"/>
<polyline points="334.30,730.40 334.30,709.20 351.40,709.20 351.40,712.30" fill="none" stroke="#808080" stroke-width="1.3"/>
<text x="342.80" y="706.30" font-size="7" font-weight="normal" text-anchor="middle" fill="#000"  stroke="#000" stroke-width="0.12">†††</text>
<rect x="466.00" y="100.90" width="58.60" height="117.55" fill="#dedede"/>
<polyline points="424.00,192.33 438.30,189.00 452.60,187.10 466.90,181.39 481.20,154.74 495.50,168.54 509.80,166.16 524.10,168.54" fill="none" stroke="#f046dc" stroke-width="1.6"/>
<line x1="424.00" y1="194.71" x2="424.00" y2="189.95" stroke="#f046dc" stroke-width="1" />
<line x1="421.70" y1="189.95" x2="426.30" y2="189.95" stroke="#f046dc" stroke-width="1" />
<line x1="421.70" y1="194.71" x2="426.30" y2="194.71" stroke="#f046dc" stroke-width="1" />
<rect x="421.70" y="190.03" width="4.6" height="4.6" fill="none" stroke="#f046dc" stroke-width="0.7"/>
<line x1="438.30" y1="190.43" x2="438.30" y2="187.57" stroke="#f046dc" stroke-width="1" />
<line x1="436.00" y1="187.57" x2="440.60" y2="187.57" stroke="#f046dc" stroke-width="1" />
<line x1="436.00" y1="190.43" x2="440.60" y2="190.43" stroke="#f046dc" stroke-width="1" />
<rect x="436.00" y="186.70" width="4.6" height="4.6" fill="none" stroke="#f046dc" stroke-width="0.7"/>
<line x1="452.60" y1="189.00" x2="452.60" y2="185.19" stroke="#f046dc" stroke-width="1" />
<line x1="450.30" y1="185.19" x2="454.90" y2="185.19" stroke="#f046dc" stroke-width="1" />
<line x1="450.30" y1="189.00" x2="454.90" y2="189.00" stroke="#f046dc" stroke-width="1" />
<rect x="450.30" y="184.80" width="4.6" height="4.6" fill="none" stroke="#f046dc" stroke-width="0.7"/>
<line x1="466.90" y1="182.81" x2="466.90" y2="179.96" stroke="#f046dc" stroke-width="1" />
<line x1="464.60" y1="179.96" x2="469.20" y2="179.96" stroke="#f046dc" stroke-width="1" />
<line x1="464.60" y1="182.81" x2="469.20" y2="182.81" stroke="#f046dc" stroke-width="1" />
<rect x="464.60" y="179.09" width="4.6" height="4.6" fill="none" stroke="#f046dc" stroke-width="0.7"/>
<line x1="481.20" y1="157.12" x2="481.20" y2="152.36" stroke="#f046dc" stroke-width="1" />
<line x1="478.90" y1="152.36" x2="483.50" y2="152.36" stroke="#f046dc" stroke-width="1" />
<line x1="478.90" y1="157.12" x2="483.50" y2="157.12" stroke="#f046dc" stroke-width="1" />
<rect x="478.90" y="152.44" width="4.6" height="4.6" fill="none" stroke="#f046dc" stroke-width="0.7"/>
<line x1="495.50" y1="172.35" x2="495.50" y2="164.73" stroke="#f046dc" stroke-width="1" />
<line x1="493.20" y1="164.73" x2="497.80" y2="164.73" stroke="#f046dc" stroke-width="1" />
<line x1="493.20" y1="172.35" x2="497.80" y2="172.35" stroke="#f046dc" stroke-width="1" />
<rect x="493.20" y="166.24" width="4.6" height="4.6" fill="none" stroke="#f046dc" stroke-width="0.7"/>
<line x1="509.80" y1="168.54" x2="509.80" y2="163.78" stroke="#f046dc" stroke-width="1" />
<line x1="507.50" y1="163.78" x2="512.10" y2="163.78" stroke="#f046dc" stroke-width="1" />
<line x1="507.50" y1="168.54" x2="512.10" y2="168.54" stroke="#f046dc" stroke-width="1" />
<rect x="507.50" y="163.86" width="4.6" height="4.6" fill="none" stroke="#f046dc" stroke-width="0.7"/>
<line x1="524.10" y1="172.35" x2="524.10" y2="164.73" stroke="#f046dc" stroke-width="1" />
<line x1="521.80" y1="164.73" x2="526.40" y2="164.73" stroke="#f046dc" stroke-width="1" />
<line x1="521.80" y1="172.35" x2="526.40" y2="172.35" stroke="#f046dc" stroke-width="1" />
<rect x="521.80" y="166.24" width="4.6" height="4.6" fill="none" stroke="#f046dc" stroke-width="0.7"/>
<polyline points="424.00,183.76 438.30,189.00 452.60,192.33 466.90,181.39 481.20,146.65 495.50,163.31 509.80,160.45 524.10,158.55" fill="none" stroke="#a8105a" stroke-width="1.6"/>
<line x1="424.00" y1="185.19" x2="424.00" y2="182.34" stroke="#a8105a" stroke-width="1" />
<line x1="421.70" y1="182.34" x2="426.30" y2="182.34" stroke="#a8105a" stroke-width="1" />
<line x1="421.70" y1="185.19" x2="426.30" y2="185.19" stroke="#a8105a" stroke-width="1" />
<circle cx="424.00" cy="183.76" r="2.3" fill="none" stroke="#a8105a" stroke-width="0.7"/>
<line x1="438.30" y1="190.43" x2="438.30" y2="187.57" stroke="#a8105a" stroke-width="1" />
<line x1="436.00" y1="187.57" x2="440.60" y2="187.57" stroke="#a8105a" stroke-width="1" />
<line x1="436.00" y1="190.43" x2="440.60" y2="190.43" stroke="#a8105a" stroke-width="1" />
<circle cx="438.30" cy="189.00" r="2.3" fill="none" stroke="#a8105a" stroke-width="0.7"/>
<line x1="452.60" y1="194.23" x2="452.60" y2="190.43" stroke="#a8105a" stroke-width="1" />
<line x1="450.30" y1="190.43" x2="454.90" y2="190.43" stroke="#a8105a" stroke-width="1" />
<line x1="450.30" y1="194.23" x2="454.90" y2="194.23" stroke="#a8105a" stroke-width="1" />
<circle cx="452.60" cy="192.33" r="2.3" fill="none" stroke="#a8105a" stroke-width="0.7"/>
<line x1="466.90" y1="182.81" x2="466.90" y2="179.96" stroke="#a8105a" stroke-width="1" />
<line x1="464.60" y1="179.96" x2="469.20" y2="179.96" stroke="#a8105a" stroke-width="1" />
<line x1="464.60" y1="182.81" x2="469.20" y2="182.81" stroke="#a8105a" stroke-width="1" />
<circle cx="466.90" cy="181.39" r="2.3" fill="none" stroke="#a8105a" stroke-width="0.7"/>
<line x1="481.20" y1="149.51" x2="481.20" y2="143.80" stroke="#a8105a" stroke-width="1" />
<line x1="478.90" y1="143.80" x2="483.50" y2="143.80" stroke="#a8105a" stroke-width="1" />
<line x1="478.90" y1="149.51" x2="483.50" y2="149.51" stroke="#a8105a" stroke-width="1" />
<circle cx="481.20" cy="146.65" r="2.3" fill="none" stroke="#a8105a" stroke-width="0.7"/>
<line x1="495.50" y1="168.06" x2="495.50" y2="158.55" stroke="#a8105a" stroke-width="1" />
<line x1="493.20" y1="158.55" x2="497.80" y2="158.55" stroke="#a8105a" stroke-width="1" />
<line x1="493.20" y1="168.06" x2="497.80" y2="168.06" stroke="#a8105a" stroke-width="1" />
<circle cx="495.50" cy="163.31" r="2.3" fill="none" stroke="#a8105a" stroke-width="0.7"/>
<line x1="509.80" y1="165.21" x2="509.80" y2="155.69" stroke="#a8105a" stroke-width="1" />
<line x1="507.50" y1="155.69" x2="512.10" y2="155.69" stroke="#a8105a" stroke-width="1" />
<line x1="507.50" y1="165.21" x2="512.10" y2="165.21" stroke="#a8105a" stroke-width="1" />
<circle cx="509.80" cy="160.45" r="2.3" fill="none" stroke="#a8105a" stroke-width="0.7"/>
<line x1="524.10" y1="163.31" x2="524.10" y2="153.79" stroke="#a8105a" stroke-width="1" />
<line x1="521.80" y1="153.79" x2="526.40" y2="153.79" stroke="#a8105a" stroke-width="1" />
<line x1="521.80" y1="163.31" x2="526.40" y2="163.31" stroke="#a8105a" stroke-width="1" />
<circle cx="524.10" cy="158.55" r="2.3" fill="none" stroke="#a8105a" stroke-width="0.7"/>
<line x1="414.60" y1="100.00" x2="414.60" y2="219.95" stroke="#1e1e1e" stroke-width="1.2" />
<line x1="410.70" y1="219.45" x2="414.60" y2="219.45" stroke="#1e1e1e" stroke-width="1" />
<text x="410.10" y="221.79" font-size="6.5" font-weight="bold" text-anchor="end" fill="#000"  stroke="#000" stroke-width="0.2">0</text>
<line x1="410.70" y1="195.66" x2="414.60" y2="195.66" stroke="#1e1e1e" stroke-width="1" />
<text x="410.10" y="198.00" font-size="6.5" font-weight="bold" text-anchor="end" fill="#000"  stroke="#000" stroke-width="0.2">50</text>
<line x1="410.70" y1="171.87" x2="414.60" y2="171.87" stroke="#1e1e1e" stroke-width="1" />
<text x="410.10" y="174.21" font-size="6.5" font-weight="bold" text-anchor="end" fill="#000"  stroke="#000" stroke-width="0.2">100</text>
<line x1="410.70" y1="148.08" x2="414.60" y2="148.08" stroke="#1e1e1e" stroke-width="1" />
<text x="410.10" y="150.42" font-size="6.5" font-weight="bold" text-anchor="end" fill="#000"  stroke="#000" stroke-width="0.2">150</text>
<line x1="410.70" y1="124.29" x2="414.60" y2="124.29" stroke="#1e1e1e" stroke-width="1" />
<text x="410.10" y="126.63" font-size="6.5" font-weight="bold" text-anchor="end" fill="#000"  stroke="#000" stroke-width="0.2">200</text>
<line x1="410.70" y1="100.50" x2="414.60" y2="100.50" stroke="#1e1e1e" stroke-width="1" />
<text x="410.10" y="102.84" font-size="6.5" font-weight="bold" text-anchor="end" fill="#000"  stroke="#000" stroke-width="0.2">250</text>
<line x1="414.10" y1="219.45" x2="533.90" y2="219.45" stroke="#1e1e1e" stroke-width="1" />
<line x1="424.00" y1="219.45" x2="424.00" y2="222.95" stroke="#1e1e1e" stroke-width="1" />
<text x="424.00" y="230.55" font-size="6.4" font-weight="bold" text-anchor="middle" fill="#000"  stroke="#000" stroke-width="0.2">3</text>
<line x1="438.30" y1="219.45" x2="438.30" y2="222.95" stroke="#1e1e1e" stroke-width="1" />
<text x="438.30" y="230.55" font-size="6.4" font-weight="bold" text-anchor="middle" fill="#000"  stroke="#000" stroke-width="0.2">6</text>
<line x1="452.60" y1="219.45" x2="452.60" y2="222.95" stroke="#1e1e1e" stroke-width="1" />
<text x="452.60" y="230.55" font-size="6.4" font-weight="bold" text-anchor="middle" fill="#000"  stroke="#000" stroke-width="0.2">9</text>
<line x1="466.90" y1="219.45" x2="466.90" y2="222.95" stroke="#1e1e1e" stroke-width="1" />
<text x="466.90" y="230.55" font-size="6.4" font-weight="bold" text-anchor="middle" fill="#000"  stroke="#000" stroke-width="0.2">12</text>
<line x1="481.20" y1="219.45" x2="481.20" y2="222.95" stroke="#1e1e1e" stroke-width="1" />
<text x="481.20" y="230.55" font-size="6.4" font-weight="bold" text-anchor="middle" fill="#000"  stroke="#000" stroke-width="0.2">15</text>
<line x1="495.50" y1="219.45" x2="495.50" y2="222.95" stroke="#1e1e1e" stroke-width="1" />
<text x="495.50" y="230.55" font-size="6.4" font-weight="bold" text-anchor="middle" fill="#000"  stroke="#000" stroke-width="0.2">18</text>
<line x1="509.80" y1="219.45" x2="509.80" y2="222.95" stroke="#1e1e1e" stroke-width="1" />
<text x="509.80" y="230.55" font-size="6.4" font-weight="bold" text-anchor="middle" fill="#000"  stroke="#000" stroke-width="0.2">21</text>
<line x1="524.10" y1="219.45" x2="524.10" y2="222.95" stroke="#1e1e1e" stroke-width="1" />
<text x="524.10" y="230.55" font-size="6.4" font-weight="bold" text-anchor="middle" fill="#000"  stroke="#000" stroke-width="0.2">24</text>
<text x="523.70" y="240.45" font-size="6.4" font-weight="bold" text-anchor="middle" fill="#000"  stroke="#000" stroke-width="0.2">ZT</text>
<text x="474.40" y="79.50" font-size="8.4" font-weight="bold" text-anchor="middle" fill="#000"  stroke="#000" stroke-width="0.2">Wake</text>
<text x="474.40" y="88.90" font-size="8.4" font-weight="bold" text-anchor="middle" fill="#000"  stroke="#000" stroke-width="0.2">(DOM)</text>
<text x="0" y="0" font-size="7.2" font-weight="bold" text-anchor="middle" transform="translate(395.20,159.97) rotate(-90)">Amount (min/3hr)</text>
<text x="473.90" y="111.90" font-size="7.2" font-weight="normal" text-anchor="middle" fill="#1a1a1a"  stroke="#1a1a1a" stroke-width="0.12">Housing&#160;&#160;##</text>
<text x="473.90" y="120.20" font-size="7.2" font-weight="normal" text-anchor="middle" fill="#1a1a1a"  stroke="#1a1a1a" stroke-width="0.12">Housing × Time&#160;&#160;#</text>
<line x1="422.20" y1="124.29" x2="524.60" y2="124.29" stroke="#2a2a2a" stroke-width="1.0" />
<polygon points="524.10,142.50 524.76,144.09 526.48,144.23 525.17,145.35 525.57,147.02 524.10,146.12 522.63,147.02 523.03,145.35 521.72,144.23 523.44,144.09" fill="#111"/>
<rect x="616.70" y="100.90" width="58.60" height="117.70" fill="#dedede"/>
<polyline points="574.70,187.20 589.00,186.25 603.30,193.40 617.60,180.54 631.90,154.33 646.20,163.38 660.50,175.29 674.80,171.48" fill="none" stroke="#33f0f0" stroke-width="1.6"/>
<line x1="574.70" y1="189.59" x2="574.70" y2="184.82" stroke="#33f0f0" stroke-width="1" />
<line x1="572.40" y1="184.82" x2="577.00" y2="184.82" stroke="#33f0f0" stroke-width="1" />
<line x1="572.40" y1="189.59" x2="577.00" y2="189.59" stroke="#33f0f0" stroke-width="1" />
<rect x="572.40" y="184.90" width="4.6" height="4.6" fill="none" stroke="#33f0f0" stroke-width="0.7"/>
<line x1="589.00" y1="188.63" x2="589.00" y2="183.87" stroke="#33f0f0" stroke-width="1" />
<line x1="586.70" y1="183.87" x2="591.30" y2="183.87" stroke="#33f0f0" stroke-width="1" />
<line x1="586.70" y1="188.63" x2="591.30" y2="188.63" stroke="#33f0f0" stroke-width="1" />
<rect x="586.70" y="183.95" width="4.6" height="4.6" fill="none" stroke="#33f0f0" stroke-width="0.7"/>
<line x1="603.30" y1="194.83" x2="603.30" y2="191.97" stroke="#33f0f0" stroke-width="1" />
<line x1="601.00" y1="191.97" x2="605.60" y2="191.97" stroke="#33f0f0" stroke-width="1" />
<line x1="601.00" y1="194.83" x2="605.60" y2="194.83" stroke="#33f0f0" stroke-width="1" />
<rect x="601.00" y="191.10" width="4.6" height="4.6" fill="none" stroke="#33f0f0" stroke-width="0.7"/>
<line x1="617.60" y1="181.96" x2="617.60" y2="179.11" stroke="#33f0f0" stroke-width="1" />
<line x1="615.30" y1="179.11" x2="619.90" y2="179.11" stroke="#33f0f0" stroke-width="1" />
<line x1="615.30" y1="181.96" x2="619.90" y2="181.96" stroke="#33f0f0" stroke-width="1" />
<rect x="615.30" y="178.24" width="4.6" height="4.6" fill="none" stroke="#33f0f0" stroke-width="0.7"/>
<line x1="631.90" y1="156.72" x2="631.90" y2="151.95" stroke="#33f0f0" stroke-width="1" />
<line x1="629.60" y1="151.95" x2="634.20" y2="151.95" stroke="#33f0f0" stroke-width="1" />
<line x1="629.60" y1="156.72" x2="634.20" y2="156.72" stroke="#33f0f0" stroke-width="1" />
<rect x="629.60" y="152.03" width="4.6" height="4.6" fill="none" stroke="#33f0f0" stroke-width="0.7"/>
<line x1="646.20" y1="168.15" x2="646.20" y2="158.62" stroke="#33f0f0" stroke-width="1" />
<line x1="643.90" y1="158.62" x2="648.50" y2="158.62" stroke="#33f0f0" stroke-width="1" />
<line x1="643.90" y1="168.15" x2="648.50" y2="168.15" stroke="#33f0f0" stroke-width="1" />
<rect x="643.90" y="161.08" width="4.6" height="4.6" fill="none" stroke="#33f0f0" stroke-width="0.7"/>
<line x1="660.50" y1="179.58" x2="660.50" y2="171.01" stroke="#33f0f0" stroke-width="1" />
<line x1="658.20" y1="171.01" x2="662.80" y2="171.01" stroke="#33f0f0" stroke-width="1" />
<line x1="658.20" y1="179.58" x2="662.80" y2="179.58" stroke="#33f0f0" stroke-width="1" />
<rect x="658.20" y="172.99" width="4.6" height="4.6" fill="none" stroke="#33f0f0" stroke-width="0.7"/>
<line x1="674.80" y1="175.77" x2="674.80" y2="167.20" stroke="#33f0f0" stroke-width="1" />
<line x1="672.50" y1="167.20" x2="677.10" y2="167.20" stroke="#33f0f0" stroke-width="1" />
<line x1="672.50" y1="175.77" x2="677.10" y2="175.77" stroke="#33f0f0" stroke-width="1" />
<rect x="672.50" y="169.18" width="4.6" height="4.6" fill="none" stroke="#33f0f0" stroke-width="0.7"/>
<polyline points="574.70,188.16 589.00,189.59 603.30,195.78 617.60,180.06 631.90,142.90 646.20,160.53 660.50,160.53 674.80,164.34" fill="none" stroke="#101090" stroke-width="1.6"/>
<line x1="574.70" y1="190.54" x2="574.70" y2="185.78" stroke="#101090" stroke-width="1" />
<line x1="572.40" y1="185.78" x2="577.00" y2="185.78" stroke="#101090" stroke-width="1" />
<line x1="572.40" y1="190.54" x2="577.00" y2="190.54" stroke="#101090" stroke-width="1" />
<circle cx="574.70" cy="188.16" r="2.3" fill="none" stroke="#101090" stroke-width="0.7"/>
<line x1="589.00" y1="191.02" x2="589.00" y2="188.16" stroke="#101090" stroke-width="1" />
<line x1="586.70" y1="188.16" x2="591.30" y2="188.16" stroke="#101090" stroke-width="1" />
<line x1="586.70" y1="191.02" x2="591.30" y2="191.02" stroke="#101090" stroke-width="1" />
<circle cx="589.00" cy="189.59" r="2.3" fill="none" stroke="#101090" stroke-width="0.7"/>
<line x1="603.30" y1="197.69" x2="603.30" y2="193.87" stroke="#101090" stroke-width="1" />
<line x1="601.00" y1="193.87" x2="605.60" y2="193.87" stroke="#101090" stroke-width="1" />
<line x1="601.00" y1="197.69" x2="605.60" y2="197.69" stroke="#101090" stroke-width="1" />
<circle cx="603.30" cy="195.78" r="2.3" fill="none" stroke="#101090" stroke-width="0.7"/>
<line x1="617.60" y1="181.49" x2="617.60" y2="178.63" stroke="#101090" stroke-width="1" />
<line x1="615.30" y1="178.63" x2="619.90" y2="178.63" stroke="#101090" stroke-width="1" />
<line x1="615.30" y1="181.49" x2="619.90" y2="181.49" stroke="#101090" stroke-width="1" />
<circle cx="617.60" cy="180.06" r="2.3" fill="none" stroke="#101090" stroke-width="0.7"/>
<line x1="631.90" y1="145.28" x2="631.90" y2="140.52" stroke="#101090" stroke-width="1" />
<line x1="629.60" y1="140.52" x2="634.20" y2="140.52" stroke="#101090" stroke-width="1" />
<line x1="629.60" y1="145.28" x2="634.20" y2="145.28" stroke="#101090" stroke-width="1" />
<circle cx="631.90" cy="142.90" r="2.3" fill="none" stroke="#101090" stroke-width="0.7"/>
<line x1="646.20" y1="164.34" x2="646.20" y2="156.72" stroke="#101090" stroke-width="1" />
<line x1="643.90" y1="156.72" x2="648.50" y2="156.72" stroke="#101090" stroke-width="1" />
<line x1="643.90" y1="164.34" x2="648.50" y2="164.34" stroke="#101090" stroke-width="1" />
<circle cx="646.20" cy="160.53" r="2.3" fill="none" stroke="#101090" stroke-width="0.7"/>
<line x1="660.50" y1="165.29" x2="660.50" y2="155.76" stroke="#101090" stroke-width="1" />
<line x1="658.20" y1="155.76" x2="662.80" y2="155.76" stroke="#101090" stroke-width="1" />
<line x1="658.20" y1="165.29" x2="662.80" y2="165.29" stroke="#101090" stroke-width="1" />
<circle cx="660.50" cy="160.53" r="2.3" fill="none" stroke="#101090" stroke-width="0.7"/>
<line x1="674.80" y1="170.05" x2="674.80" y2="158.62" stroke="#101090" stroke-width="1" />
<line x1="672.50" y1="158.62" x2="677.10" y2="158.62" stroke="#101090" stroke-width="1" />
<line x1="672.50" y1="170.05" x2="677.10" y2="170.05" stroke="#101090" stroke-width="1" />
<circle cx="674.80" cy="164.34" r="2.3" fill="none" stroke="#101090" stroke-width="0.7"/>
<line x1="565.30" y1="100.00" x2="565.30" y2="220.10" stroke="#1e1e1e" stroke-width="1.2" />
<line x1="561.40" y1="219.60" x2="565.30" y2="219.60" stroke="#1e1e1e" stroke-width="1" />
<text x="560.80" y="221.94" font-size="6.5" font-weight="bold" text-anchor="end" fill="#000"  stroke="#000" stroke-width="0.2">0</text>
<line x1="561.40" y1="195.78" x2="565.30" y2="195.78" stroke="#1e1e1e" stroke-width="1" />
<text x="560.80" y="198.12" font-size="6.5" font-weight="bold" text-anchor="end" fill="#000"  stroke="#000" stroke-width="0.2">50</text>
<line x1="561.40" y1="171.96" x2="565.30" y2="171.96" stroke="#1e1e1e" stroke-width="1" />
<text x="560.80" y="174.30" font-size="6.5" font-weight="bold" text-anchor="end" fill="#000"  stroke="#000" stroke-width="0.2">100</text>
<line x1="561.40" y1="148.14" x2="565.30" y2="148.14" stroke="#1e1e1e" stroke-width="1" />
<text x="560.80" y="150.48" font-size="6.5" font-weight="bold" text-anchor="end" fill="#000"  stroke="#000" stroke-width="0.2">150</text>
<line x1="561.40" y1="124.32" x2="565.30" y2="124.32" stroke="#1e1e1e" stroke-width="1" />
<text x="560.80" y="126.66" font-size="6.5" font-weight="bold" text-anchor="end" fill="#000"  stroke="#000" stroke-width="0.2">200</text>
<line x1="561.40" y1="100.50" x2="565.30" y2="100.50" stroke="#1e1e1e" stroke-width="1" />
<text x="560.80" y="102.84" font-size="6.5" font-weight="bold" text-anchor="end" fill="#000"  stroke="#000" stroke-width="0.2">250</text>
<line x1="564.80" y1="219.60" x2="684.60" y2="219.60" stroke="#1e1e1e" stroke-width="1" />
<line x1="574.70" y1="219.60" x2="574.70" y2="223.10" stroke="#1e1e1e" stroke-width="1" />
<text x="574.70" y="230.70" font-size="6.4" font-weight="bold" text-anchor="middle" fill="#000"  stroke="#000" stroke-width="0.2">3</text>
<line x1="589.00" y1="219.60" x2="589.00" y2="223.10" stroke="#1e1e1e" stroke-width="1" />
<text x="589.00" y="230.70" font-size="6.4" font-weight="bold" text-anchor="middle" fill="#000"  stroke="#000" stroke-width="0.2">6</text>
<line x1="603.30" y1="219.60" x2="603.30" y2="223.10" stroke="#1e1e1e" stroke-width="1" />
<text x="603.30" y="230.70" font-size="6.4" font-weight="bold" text-anchor="middle" fill="#000"  stroke="#000" stroke-width="0.2">9</text>
<line x1="617.60" y1="219.60" x2="617.60" y2="223.10" stroke="#1e1e1e" stroke-width="1" />
<text x="617.60" y="230.70" font-size="6.4" font-weight="bold" text-anchor="middle" fill="#000"  stroke="#000" stroke-width="0.2">12</text>
<line x1="631.90" y1="219.60" x2="631.90" y2="223.10" stroke="#1e1e1e" stroke-width="1" />
<text x="631.90" y="230.70" font-size="6.4" font-weight="bold" text-anchor="middle" fill="#000"  stroke="#000" stroke-width="0.2">15</text>
<line x1="646.20" y1="219.60" x2="646.20" y2="223.10" stroke="#1e1e1e" stroke-width="1" />
<text x="646.20" y="230.70" font-size="6.4" font-weight="bold" text-anchor="middle" fill="#000"  stroke="#000" stroke-width="0.2">18</text>
<line x1="660.50" y1="219.60" x2="660.50" y2="223.10" stroke="#1e1e1e" stroke-width="1" />
<text x="660.50" y="230.70" font-size="6.4" font-weight="bold" text-anchor="middle" fill="#000"  stroke="#000" stroke-width="0.2">21</text>
<line x1="674.80" y1="219.60" x2="674.80" y2="223.10" stroke="#1e1e1e" stroke-width="1" />
<text x="674.80" y="230.70" font-size="6.4" font-weight="bold" text-anchor="middle" fill="#000"  stroke="#000" stroke-width="0.2">24</text>
<text x="674.40" y="240.60" font-size="6.4" font-weight="bold" text-anchor="middle" fill="#000"  stroke="#000" stroke-width="0.2">ZT</text>
<text x="625.10" y="79.50" font-size="8.4" font-weight="bold" text-anchor="middle" fill="#000"  stroke="#000" stroke-width="0.2">Wake</text>
<text x="625.10" y="88.90" font-size="8.4" font-weight="bold" text-anchor="middle" fill="#000"  stroke="#000" stroke-width="0.2">(SUB)</text>
<text x="0" y="0" font-size="7.2" font-weight="bold" text-anchor="middle" transform="translate(545.90,160.05) rotate(-90)">Amount (min/3hr)</text>
<text x="624.60" y="111.90" font-size="7.2" font-weight="normal" text-anchor="middle" fill="#1a1a1a"  stroke="#1a1a1a" stroke-width="0.12">Housing&#160;&#160;#</text>
<text x="624.60" y="120.20" font-size="7.2" font-weight="normal" text-anchor="middle" fill="#1a1a1a"  stroke="#1a1a1a" stroke-width="0.12">Housing × Time&#160;&#160;##</text>
<line x1="572.90" y1="124.32" x2="675.30" y2="124.32" stroke="#2a2a2a" stroke-width="1.0" />
<polygon points="631.90,128.55 632.50,129.98 634.04,130.10 632.86,131.11 633.22,132.62 631.90,131.81 630.58,132.62 630.94,131.11 629.76,130.10 631.30,129.98" fill="#111"/>
<polygon points="631.90,132.95 632.50,134.38 634.04,134.50 632.86,135.51 633.22,137.02 631.90,136.21 630.58,137.02 630.94,135.51 629.76,134.50 631.30,134.38" fill="#111"/>
<polygon points="660.50,137.35 661.10,138.78 662.64,138.90 661.46,139.91 661.82,141.42 660.50,140.61 659.18,141.42 659.54,139.91 658.36,138.90 659.90,138.78" fill="#111"/>
<polygon points="660.50,142.10 661.10,143.53 662.64,143.65 661.46,144.66 661.82,146.17 660.50,145.36 659.18,146.17 659.54,144.66 658.36,143.65 659.90,143.53" fill="#111"/>
<polygon points="660.50,146.85 661.10,148.28 662.64,148.40 661.46,149.41 661.82,150.92 660.50,150.11 659.18,150.92 659.54,149.41 658.36,148.40 659.90,148.28" fill="#111"/>
<rect x="466.90" y="288.90" width="58.60" height="117.50" fill="#dedede"/>
<polyline points="424.90,356.51 439.20,357.94 453.50,359.36 467.80,365.07 482.10,387.42 496.40,373.16 510.70,376.96 525.00,375.53" fill="none" stroke="#f046dc" stroke-width="1.6"/>
<line x1="424.90" y1="358.89" x2="424.90" y2="354.13" stroke="#f046dc" stroke-width="1" />
<line x1="422.60" y1="354.13" x2="427.20" y2="354.13" stroke="#f046dc" stroke-width="1" />
<line x1="422.60" y1="358.89" x2="427.20" y2="358.89" stroke="#f046dc" stroke-width="1" />
<rect x="422.60" y="354.21" width="4.6" height="4.6" fill="none" stroke="#f046dc" stroke-width="0.7"/>
<line x1="439.20" y1="359.36" x2="439.20" y2="356.51" stroke="#f046dc" stroke-width="1" />
<line x1="436.90" y1="356.51" x2="441.50" y2="356.51" stroke="#f046dc" stroke-width="1" />
<line x1="436.90" y1="359.36" x2="441.50" y2="359.36" stroke="#f046dc" stroke-width="1" />
<rect x="436.90" y="355.64" width="4.6" height="4.6" fill="none" stroke="#f046dc" stroke-width="0.7"/>
<line x1="453.50" y1="361.27" x2="453.50" y2="357.46" stroke="#f046dc" stroke-width="1" />
<line x1="451.20" y1="357.46" x2="455.80" y2="357.46" stroke="#f046dc" stroke-width="1" />
<line x1="451.20" y1="361.27" x2="455.80" y2="361.27" stroke="#f046dc" stroke-width="1" />
<rect x="451.20" y="357.06" width="4.6" height="4.6" fill="none" stroke="#f046dc" stroke-width="0.7"/>
<line x1="467.80" y1="366.50" x2="467.80" y2="363.64" stroke="#f046dc" stroke-width="1" />
<line x1="465.50" y1="363.64" x2="470.10" y2="363.64" stroke="#f046dc" stroke-width="1" />
<line x1="465.50" y1="366.50" x2="470.10" y2="366.50" stroke="#f046dc" stroke-width="1" />
<rect x="465.50" y="362.77" width="4.6" height="4.6" fill="none" stroke="#f046dc" stroke-width="0.7"/>
<line x1="482.10" y1="389.80" x2="482.10" y2="385.05" stroke="#f046dc" stroke-width="1" />
<line x1="479.80" y1="385.05" x2="484.40" y2="385.05" stroke="#f046dc" stroke-width="1" />
<line x1="479.80" y1="389.80" x2="484.40" y2="389.80" stroke="#f046dc" stroke-width="1" />
<rect x="479.80" y="385.12" width="4.6" height="4.6" fill="none" stroke="#f046dc" stroke-width="0.7"/>
<line x1="496.40" y1="377.44" x2="496.40" y2="368.88" stroke="#f046dc" stroke-width="1" />
<line x1="494.10" y1="368.88" x2="498.70" y2="368.88" stroke="#f046dc" stroke-width="1" />
<line x1="494.10" y1="377.44" x2="498.70" y2="377.44" stroke="#f046dc" stroke-width="1" />
<rect x="494.10" y="370.86" width="4.6" height="4.6" fill="none" stroke="#f046dc" stroke-width="0.7"/>
<line x1="510.70" y1="380.29" x2="510.70" y2="373.63" stroke="#f046dc" stroke-width="1" />
<line x1="508.40" y1="373.63" x2="513.00" y2="373.63" stroke="#f046dc" stroke-width="1" />
<line x1="508.40" y1="380.29" x2="513.00" y2="380.29" stroke="#f046dc" stroke-width="1" />
<rect x="508.40" y="374.66" width="4.6" height="4.6" fill="none" stroke="#f046dc" stroke-width="0.7"/>
<line x1="525.00" y1="378.86" x2="525.00" y2="372.21" stroke="#f046dc" stroke-width="1" />
<line x1="522.70" y1="372.21" x2="527.30" y2="372.21" stroke="#f046dc" stroke-width="1" />
<line x1="522.70" y1="378.86" x2="527.30" y2="378.86" stroke="#f046dc" stroke-width="1" />
<rect x="522.70" y="373.23" width="4.6" height="4.6" fill="none" stroke="#f046dc" stroke-width="0.7"/>
<polyline points="424.90,362.22 439.20,358.89 453.50,355.56 467.80,365.07 482.10,394.56 496.40,379.34 510.70,382.67 525.00,384.57" fill="none" stroke="#a8105a" stroke-width="1.6"/>
<line x1="424.90" y1="363.64" x2="424.90" y2="360.79" stroke="#a8105a" stroke-width="1" />
<line x1="422.60" y1="360.79" x2="427.20" y2="360.79" stroke="#a8105a" stroke-width="1" />
<line x1="422.60" y1="363.64" x2="427.20" y2="363.64" stroke="#a8105a" stroke-width="1" />
<circle cx="424.90" cy="362.22" r="2.3" fill="none" stroke="#a8105a" stroke-width="0.7"/>
<line x1="439.20" y1="360.32" x2="439.20" y2="357.46" stroke="#a8105a" stroke-width="1" />
<line x1="436.90" y1="357.46" x2="441.50" y2="357.46" stroke="#a8105a" stroke-width="1" />
<line x1="436.90" y1="360.32" x2="441.50" y2="360.32" stroke="#a8105a" stroke-width="1" />
<circle cx="439.20" cy="358.89" r="2.3" fill="none" stroke="#a8105a" stroke-width="0.7"/>
<line x1="453.50" y1="357.46" x2="453.50" y2="353.66" stroke="#a8105a" stroke-width="1" />
<line x1="451.20" y1="353.66" x2="455.80" y2="353.66" stroke="#a8105a" stroke-width="1" />
<line x1="451.20" y1="357.46" x2="455.80" y2="357.46" stroke="#a8105a" stroke-width="1" />
<circle cx="453.50" cy="355.56" r="2.3" fill="none" stroke="#a8105a" stroke-width="0.7"/>
<line x1="467.80" y1="366.50" x2="467.80" y2="363.64" stroke="#a8105a" stroke-width="1" />
<line x1="465.50" y1="363.64" x2="470.10" y2="363.64" stroke="#a8105a" stroke-width="1" />
<line x1="465.50" y1="366.50" x2="470.10" y2="366.50" stroke="#a8105a" stroke-width="1" />
<circle cx="467.80" cy="365.07" r="2.3" fill="none" stroke="#a8105a" stroke-width="0.7"/>
<line x1="482.10" y1="397.41" x2="482.10" y2="391.71" stroke="#a8105a" stroke-width="1" />
<line x1="479.80" y1="391.71" x2="484.40" y2="391.71" stroke="#a8105a" stroke-width="1" />
<line x1="479.80" y1="397.41" x2="484.40" y2="397.41" stroke="#a8105a" stroke-width="1" />
<circle cx="482.10" cy="394.56" r="2.3" fill="none" stroke="#a8105a" stroke-width="0.7"/>
<line x1="496.40" y1="383.62" x2="496.40" y2="375.06" stroke="#a8105a" stroke-width="1" />
<line x1="494.10" y1="375.06" x2="498.70" y2="375.06" stroke="#a8105a" stroke-width="1" />
<line x1="494.10" y1="383.62" x2="498.70" y2="383.62" stroke="#a8105a" stroke-width="1" />
<circle cx="496.40" cy="379.34" r="2.3" fill="none" stroke="#a8105a" stroke-width="0.7"/>
<line x1="510.70" y1="386.95" x2="510.70" y2="378.39" stroke="#a8105a" stroke-width="1" />
<line x1="508.40" y1="378.39" x2="513.00" y2="378.39" stroke="#a8105a" stroke-width="1" />
<line x1="508.40" y1="386.95" x2="513.00" y2="386.95" stroke="#a8105a" stroke-width="1" />
<circle cx="510.70" cy="382.67" r="2.3" fill="none" stroke="#a8105a" stroke-width="0.7"/>
<line x1="525.00" y1="388.85" x2="525.00" y2="380.29" stroke="#a8105a" stroke-width="1" />
<line x1="522.70" y1="380.29" x2="527.30" y2="380.29" stroke="#a8105a" stroke-width="1" />
<line x1="522.70" y1="388.85" x2="527.30" y2="388.85" stroke="#a8105a" stroke-width="1" />
<circle cx="525.00" cy="384.57" r="2.3" fill="none" stroke="#a8105a" stroke-width="0.7"/>
<line x1="415.50" y1="288.00" x2="415.50" y2="407.90" stroke="#1e1e1e" stroke-width="1.2" />
<line x1="411.60" y1="407.40" x2="415.50" y2="407.40" stroke="#1e1e1e" stroke-width="1" />
<text x="411.00" y="409.74" font-size="6.5" font-weight="bold" text-anchor="end" fill="#000"  stroke="#000" stroke-width="0.2">0</text>
<line x1="411.60" y1="383.62" x2="415.50" y2="383.62" stroke="#1e1e1e" stroke-width="1" />
<text x="411.00" y="385.96" font-size="6.5" font-weight="bold" text-anchor="end" fill="#000"  stroke="#000" stroke-width="0.2">50</text>
<line x1="411.60" y1="359.84" x2="415.50" y2="359.84" stroke="#1e1e1e" stroke-width="1" />
<text x="411.00" y="362.18" font-size="6.5" font-weight="bold" text-anchor="end" fill="#000"  stroke="#000" stroke-width="0.2">100</text>
<line x1="411.60" y1="336.06" x2="415.50" y2="336.06" stroke="#1e1e1e" stroke-width="1" />
<text x="411.00" y="338.40" font-size="6.5" font-weight="bold" text-anchor="end" fill="#000"  stroke="#000" stroke-width="0.2">150</text>
<line x1="411.60" y1="312.28" x2="415.50" y2="312.28" stroke="#1e1e1e" stroke-width="1" />
<text x="411.00" y="314.62" font-size="6.5" font-weight="bold" text-anchor="end" fill="#000"  stroke="#000" stroke-width="0.2">200</text>
<line x1="411.60" y1="288.50" x2="415.50" y2="288.50" stroke="#1e1e1e" stroke-width="1" />
<text x="411.00" y="290.84" font-size="6.5" font-weight="bold" text-anchor="end" fill="#000"  stroke="#000" stroke-width="0.2">250</text>
<line x1="415.00" y1="407.40" x2="534.80" y2="407.40" stroke="#1e1e1e" stroke-width="1" />
<line x1="424.90" y1="407.40" x2="424.90" y2="410.90" stroke="#1e1e1e" stroke-width="1" />
<text x="424.90" y="418.50" font-size="6.4" font-weight="bold" text-anchor="middle" fill="#000"  stroke="#000" stroke-width="0.2">3</text>
<line x1="439.20" y1="407.40" x2="439.20" y2="410.90" stroke="#1e1e1e" stroke-width="1" />
<text x="439.20" y="418.50" font-size="6.4" font-weight="bold" text-anchor="middle" fill="#000"  stroke="#000" stroke-width="0.2">6</text>
<line x1="453.50" y1="407.40" x2="453.50" y2="410.90" stroke="#1e1e1e" stroke-width="1" />
<text x="453.50" y="418.50" font-size="6.4" font-weight="bold" text-anchor="middle" fill="#000"  stroke="#000" stroke-width="0.2">9</text>
<line x1="467.80" y1="407.40" x2="467.80" y2="410.90" stroke="#1e1e1e" stroke-width="1" />
<text x="467.80" y="418.50" font-size="6.4" font-weight="bold" text-anchor="middle" fill="#000"  stroke="#000" stroke-width="0.2">12</text>
<line x1="482.10" y1="407.40" x2="482.10" y2="410.90" stroke="#1e1e1e" stroke-width="1" />
<text x="482.10" y="418.50" font-size="6.4" font-weight="bold" text-anchor="middle" fill="#000"  stroke="#000" stroke-width="0.2">15</text>
<line x1="496.40" y1="407.40" x2="496.40" y2="410.90" stroke="#1e1e1e" stroke-width="1" />
<text x="496.40" y="418.50" font-size="6.4" font-weight="bold" text-anchor="middle" fill="#000"  stroke="#000" stroke-width="0.2">18</text>
<line x1="510.70" y1="407.40" x2="510.70" y2="410.90" stroke="#1e1e1e" stroke-width="1" />
<text x="510.70" y="418.50" font-size="6.4" font-weight="bold" text-anchor="middle" fill="#000"  stroke="#000" stroke-width="0.2">21</text>
<line x1="525.00" y1="407.40" x2="525.00" y2="410.90" stroke="#1e1e1e" stroke-width="1" />
<text x="525.00" y="418.50" font-size="6.4" font-weight="bold" text-anchor="middle" fill="#000"  stroke="#000" stroke-width="0.2">24</text>
<text x="524.60" y="428.40" font-size="6.4" font-weight="bold" text-anchor="middle" fill="#000"  stroke="#000" stroke-width="0.2">ZT</text>
<text x="475.30" y="267.50" font-size="8.4" font-weight="bold" text-anchor="middle" fill="#000"  stroke="#000" stroke-width="0.2">NREMS</text>
<text x="475.30" y="276.90" font-size="8.4" font-weight="bold" text-anchor="middle" fill="#000"  stroke="#000" stroke-width="0.2">(DOM)</text>
<text x="0" y="0" font-size="7.2" font-weight="bold" text-anchor="middle" transform="translate(396.10,347.95) rotate(-90)">Amount (min/3hr)</text>
<text x="474.80" y="299.90" font-size="7.2" font-weight="normal" text-anchor="middle" fill="#1a1a1a"  stroke="#1a1a1a" stroke-width="0.12">Housing&#160;&#160;##</text>
<text x="474.80" y="308.20" font-size="7.2" font-weight="normal" text-anchor="middle" fill="#1a1a1a"  stroke="#1a1a1a" stroke-width="0.12">Housing × Time&#160;&#160;#</text>
<line x1="423.10" y1="312.28" x2="525.50" y2="312.28" stroke="#2a2a2a" stroke-width="1.0" />
<polygon points="482.10,369.90 482.76,371.49 484.48,371.63 483.17,372.75 483.57,374.42 482.10,373.52 480.63,374.42 481.03,372.75 479.72,371.63 481.44,371.49" fill="#111"/>
<polygon points="525.00,356.90 525.66,358.49 527.38,358.63 526.07,359.75 526.47,361.42 525.00,360.52 523.53,361.42 523.93,359.75 522.62,358.63 524.34,358.49" fill="#111"/>
<rect x="616.40" y="289.70" width="58.60" height="117.50" fill="#dedede"/>
<polyline points="574.40,360.64 588.70,362.54 603.00,355.41 617.30,366.35 631.60,388.22 645.90,379.66 660.20,370.63 674.50,373.96" fill="none" stroke="#33f0f0" stroke-width="1.6"/>
<line x1="574.40" y1="362.54" x2="574.40" y2="358.74" stroke="#33f0f0" stroke-width="1" />
<line x1="572.10" y1="358.74" x2="576.70" y2="358.74" stroke="#33f0f0" stroke-width="1" />
<line x1="572.10" y1="362.54" x2="576.70" y2="362.54" stroke="#33f0f0" stroke-width="1" />
<rect x="572.10" y="358.34" width="4.6" height="4.6" fill="none" stroke="#33f0f0" stroke-width="0.7"/>
<line x1="588.70" y1="364.44" x2="588.70" y2="360.64" stroke="#33f0f0" stroke-width="1" />
<line x1="586.40" y1="360.64" x2="591.00" y2="360.64" stroke="#33f0f0" stroke-width="1" />
<line x1="586.40" y1="364.44" x2="591.00" y2="364.44" stroke="#33f0f0" stroke-width="1" />
<rect x="586.40" y="360.24" width="4.6" height="4.6" fill="none" stroke="#33f0f0" stroke-width="0.7"/>
<line x1="603.00" y1="356.84" x2="603.00" y2="353.98" stroke="#33f0f0" stroke-width="1" />
<line x1="600.70" y1="353.98" x2="605.30" y2="353.98" stroke="#33f0f0" stroke-width="1" />
<line x1="600.70" y1="356.84" x2="605.30" y2="356.84" stroke="#33f0f0" stroke-width="1" />
<rect x="600.70" y="353.11" width="4.6" height="4.6" fill="none" stroke="#33f0f0" stroke-width="0.7"/>
<line x1="617.30" y1="367.77" x2="617.30" y2="364.92" stroke="#33f0f0" stroke-width="1" />
<line x1="615.00" y1="364.92" x2="619.60" y2="364.92" stroke="#33f0f0" stroke-width="1" />
<line x1="615.00" y1="367.77" x2="619.60" y2="367.77" stroke="#33f0f0" stroke-width="1" />
<rect x="615.00" y="364.05" width="4.6" height="4.6" fill="none" stroke="#33f0f0" stroke-width="0.7"/>
<line x1="631.60" y1="390.13" x2="631.60" y2="386.32" stroke="#33f0f0" stroke-width="1" />
<line x1="629.30" y1="386.32" x2="633.90" y2="386.32" stroke="#33f0f0" stroke-width="1" />
<line x1="629.30" y1="390.13" x2="633.90" y2="390.13" stroke="#33f0f0" stroke-width="1" />
<rect x="629.30" y="385.92" width="4.6" height="4.6" fill="none" stroke="#33f0f0" stroke-width="0.7"/>
<line x1="645.90" y1="383.47" x2="645.90" y2="375.86" stroke="#33f0f0" stroke-width="1" />
<line x1="643.60" y1="375.86" x2="648.20" y2="375.86" stroke="#33f0f0" stroke-width="1" />
<line x1="643.60" y1="383.47" x2="648.20" y2="383.47" stroke="#33f0f0" stroke-width="1" />
<rect x="643.60" y="377.36" width="4.6" height="4.6" fill="none" stroke="#33f0f0" stroke-width="0.7"/>
<line x1="660.20" y1="373.48" x2="660.20" y2="367.77" stroke="#33f0f0" stroke-width="1" />
<line x1="657.90" y1="367.77" x2="662.50" y2="367.77" stroke="#33f0f0" stroke-width="1" />
<line x1="657.90" y1="373.48" x2="662.50" y2="373.48" stroke="#33f0f0" stroke-width="1" />
<rect x="657.90" y="368.33" width="4.6" height="4.6" fill="none" stroke="#33f0f0" stroke-width="0.7"/>
<line x1="674.50" y1="377.76" x2="674.50" y2="370.15" stroke="#33f0f0" stroke-width="1" />
<line x1="672.20" y1="370.15" x2="676.80" y2="370.15" stroke="#33f0f0" stroke-width="1" />
<line x1="672.20" y1="377.76" x2="676.80" y2="377.76" stroke="#33f0f0" stroke-width="1" />
<rect x="672.20" y="371.66" width="4.6" height="4.6" fill="none" stroke="#33f0f0" stroke-width="0.7"/>
<polyline points="574.40,360.16 588.70,358.74 603.00,353.03 617.30,366.35 631.60,399.16 645.90,382.04 660.20,382.99 674.50,379.66" fill="none" stroke="#101090" stroke-width="1.6"/>
<line x1="574.40" y1="362.07" x2="574.40" y2="358.26" stroke="#101090" stroke-width="1" />
<line x1="572.10" y1="358.26" x2="576.70" y2="358.26" stroke="#101090" stroke-width="1" />
<line x1="572.10" y1="362.07" x2="576.70" y2="362.07" stroke="#101090" stroke-width="1" />
<circle cx="574.40" cy="360.16" r="2.3" fill="none" stroke="#101090" stroke-width="0.7"/>
<line x1="588.70" y1="360.16" x2="588.70" y2="357.31" stroke="#101090" stroke-width="1" />
<line x1="586.40" y1="357.31" x2="591.00" y2="357.31" stroke="#101090" stroke-width="1" />
<line x1="586.40" y1="360.16" x2="591.00" y2="360.16" stroke="#101090" stroke-width="1" />
<circle cx="588.70" cy="358.74" r="2.3" fill="none" stroke="#101090" stroke-width="0.7"/>
<line x1="603.00" y1="354.93" x2="603.00" y2="351.13" stroke="#101090" stroke-width="1" />
<line x1="600.70" y1="351.13" x2="605.30" y2="351.13" stroke="#101090" stroke-width="1" />
<line x1="600.70" y1="354.93" x2="605.30" y2="354.93" stroke="#101090" stroke-width="1" />
<circle cx="603.00" cy="353.03" r="2.3" fill="none" stroke="#101090" stroke-width="0.7"/>
<line x1="617.30" y1="367.77" x2="617.30" y2="364.92" stroke="#101090" stroke-width="1" />
<line x1="615.00" y1="364.92" x2="619.60" y2="364.92" stroke="#101090" stroke-width="1" />
<line x1="615.00" y1="367.77" x2="619.60" y2="367.77" stroke="#101090" stroke-width="1" />
<circle cx="617.30" cy="366.35" r="2.3" fill="none" stroke="#101090" stroke-width="0.7"/>
<line x1="631.60" y1="401.07" x2="631.60" y2="397.26" stroke="#101090" stroke-width="1" />
<line x1="629.30" y1="397.26" x2="633.90" y2="397.26" stroke="#101090" stroke-width="1" />
<line x1="629.30" y1="401.07" x2="633.90" y2="401.07" stroke="#101090" stroke-width="1" />
<circle cx="631.60" cy="399.16" r="2.3" fill="none" stroke="#101090" stroke-width="0.7"/>
<line x1="645.90" y1="385.85" x2="645.90" y2="378.24" stroke="#101090" stroke-width="1" />
<line x1="643.60" y1="378.24" x2="648.20" y2="378.24" stroke="#101090" stroke-width="1" />
<line x1="643.60" y1="385.85" x2="648.20" y2="385.85" stroke="#101090" stroke-width="1" />
<circle cx="645.90" cy="382.04" r="2.3" fill="none" stroke="#101090" stroke-width="0.7"/>
<line x1="660.20" y1="386.80" x2="660.20" y2="379.19" stroke="#101090" stroke-width="1" />
<line x1="657.90" y1="379.19" x2="662.50" y2="379.19" stroke="#101090" stroke-width="1" />
<line x1="657.90" y1="386.80" x2="662.50" y2="386.80" stroke="#101090" stroke-width="1" />
<circle cx="660.20" cy="382.99" r="2.3" fill="none" stroke="#101090" stroke-width="0.7"/>
<line x1="674.50" y1="384.42" x2="674.50" y2="374.91" stroke="#101090" stroke-width="1" />
<line x1="672.20" y1="374.91" x2="676.80" y2="374.91" stroke="#101090" stroke-width="1" />
<line x1="672.20" y1="384.42" x2="676.80" y2="384.42" stroke="#101090" stroke-width="1" />
<circle cx="674.50" cy="379.66" r="2.3" fill="none" stroke="#101090" stroke-width="0.7"/>
<line x1="565.00" y1="288.80" x2="565.00" y2="408.70" stroke="#1e1e1e" stroke-width="1.2" />
<line x1="561.10" y1="408.20" x2="565.00" y2="408.20" stroke="#1e1e1e" stroke-width="1" />
<text x="560.50" y="410.54" font-size="6.5" font-weight="bold" text-anchor="end" fill="#000"  stroke="#000" stroke-width="0.2">0</text>
<line x1="561.10" y1="384.42" x2="565.00" y2="384.42" stroke="#1e1e1e" stroke-width="1" />
<text x="560.50" y="386.76" font-size="6.5" font-weight="bold" text-anchor="end" fill="#000"  stroke="#000" stroke-width="0.2">50</text>
<line x1="561.10" y1="360.64" x2="565.00" y2="360.64" stroke="#1e1e1e" stroke-width="1" />
<text x="560.50" y="362.98" font-size="6.5" font-weight="bold" text-anchor="end" fill="#000"  stroke="#000" stroke-width="0.2">100</text>
<line x1="561.10" y1="336.86" x2="565.00" y2="336.86" stroke="#1e1e1e" stroke-width="1" />
<text x="560.50" y="339.20" font-size="6.5" font-weight="bold" text-anchor="end" fill="#000"  stroke="#000" stroke-width="0.2">150</text>
<line x1="561.10" y1="313.08" x2="565.00" y2="313.08" stroke="#1e1e1e" stroke-width="1" />
<text x="560.50" y="315.42" font-size="6.5" font-weight="bold" text-anchor="end" fill="#000"  stroke="#000" stroke-width="0.2">200</text>
<line x1="561.10" y1="289.30" x2="565.00" y2="289.30" stroke="#1e1e1e" stroke-width="1" />
<text x="560.50" y="291.64" font-size="6.5" font-weight="bold" text-anchor="end" fill="#000"  stroke="#000" stroke-width="0.2">250</text>
<line x1="564.50" y1="408.20" x2="684.30" y2="408.20" stroke="#1e1e1e" stroke-width="1" />
<line x1="574.40" y1="408.20" x2="574.40" y2="411.70" stroke="#1e1e1e" stroke-width="1" />
<text x="574.40" y="419.30" font-size="6.4" font-weight="bold" text-anchor="middle" fill="#000"  stroke="#000" stroke-width="0.2">3</text>
<line x1="588.70" y1="408.20" x2="588.70" y2="411.70" stroke="#1e1e1e" stroke-width="1" />
<text x="588.70" y="419.30" font-size="6.4" font-weight="bold" text-anchor="middle" fill="#000"  stroke="#000" stroke-width="0.2">6</text>
<line x1="603.00" y1="408.20" x2="603.00" y2="411.70" stroke="#1e1e1e" stroke-width="1" />
<text x="603.00" y="419.30" font-size="6.4" font-weight="bold" text-anchor="middle" fill="#000"  stroke="#000" stroke-width="0.2">9</text>
<line x1="617.30" y1="408.20" x2="617.30" y2="411.70" stroke="#1e1e1e" stroke-width="1" />
<text x="617.30" y="419.30" font-size="6.4" font-weight="bold" text-anchor="middle" fill="#000"  stroke="#000" stroke-width="0.2">12</text>
<line x1="631.60" y1="408.20" x2="631.60" y2="411.70" stroke="#1e1e1e" stroke-width="1" />
<text x="631.60" y="419.30" font-size="6.4" font-weight="bold" text-anchor="middle" fill="#000"  stroke="#000" stroke-width="0.2">15</text>
<line x1="645.90" y1="408.20" x2="645.90" y2="411.70" stroke="#1e1e1e" stroke-width="1" />
<text x="645.90" y="419.30" font-size="6.4" font-weight="bold" text-anchor="middle" fill="#000"  stroke="#000" stroke-width="0.2">18</text>
<line x1="660.20" y1="408.20" x2="660.20" y2="411.70" stroke="#1e1e1e" stroke-width="1" />
<text x="660.20" y="419.30" font-size="6.4" font-weight="bold" text-anchor="middle" fill="#000"  stroke="#000" stroke-width="0.2">21</text>
<line x1="674.50" y1="408.20" x2="674.50" y2="411.70" stroke="#1e1e1e" stroke-width="1" />
<text x="674.50" y="419.30" font-size="6.4" font-weight="bold" text-anchor="middle" fill="#000"  stroke="#000" stroke-width="0.2">24</text>
<text x="674.10" y="429.20" font-size="6.4" font-weight="bold" text-anchor="middle" fill="#000"  stroke="#000" stroke-width="0.2">ZT</text>
<text x="624.80" y="268.30" font-size="8.4" font-weight="bold" text-anchor="middle" fill="#000"  stroke="#000" stroke-width="0.2">NREMS</text>
<text x="624.80" y="277.70" font-size="8.4" font-weight="bold" text-anchor="middle" fill="#000"  stroke="#000" stroke-width="0.2">(SUB)</text>
<text x="0" y="0" font-size="7.2" font-weight="bold" text-anchor="middle" transform="translate(545.60,348.75) rotate(-90)">Amount (min/3hr)</text>
<text x="624.30" y="308.90" font-size="7.2" font-weight="normal" text-anchor="middle" fill="#1a1a1a"  stroke="#1a1a1a" stroke-width="0.12">Housing × Time&#160;&#160;#</text>
<line x1="572.60" y1="313.08" x2="675.00" y2="313.08" stroke="#2a2a2a" stroke-width="1.0" />
<polygon points="631.60,367.45 632.20,368.88 633.74,369.00 632.56,370.01 632.92,371.52 631.60,370.71 630.28,371.52 630.64,370.01 629.46,369.00 631.00,368.88" fill="#111"/>
<polygon points="631.60,371.85 632.20,373.28 633.74,373.40 632.56,374.41 632.92,375.92 631.60,375.11 630.28,375.92 630.64,374.41 629.46,373.40 631.00,373.28" fill="#111"/>
<polygon points="660.20,356.55 660.80,357.98 662.34,358.10 661.16,359.11 661.52,360.62 660.20,359.81 658.88,360.62 659.24,359.11 658.06,358.10 659.60,357.98" fill="#111"/>
<polygon points="660.20,360.85 660.80,362.28 662.34,362.40 661.16,363.41 661.52,364.92 660.20,364.11 658.88,364.92 659.24,363.41 658.06,362.40 659.60,362.28" fill="#111"/>
<rect x="466.90" y="477.85" width="58.60" height="117.65" fill="#dedede"/>
<polyline points="424.90,523.64 439.20,539.36 453.50,539.36 467.80,546.50 482.10,590.79 496.40,584.12 510.70,576.98 525.00,564.59" fill="none" stroke="#f046dc" stroke-width="1.6"/>
<line x1="424.90" y1="533.17" x2="424.90" y2="514.12" stroke="#f046dc" stroke-width="1" />
<line x1="422.60" y1="514.12" x2="427.20" y2="514.12" stroke="#f046dc" stroke-width="1" />
<line x1="422.60" y1="533.17" x2="427.20" y2="533.17" stroke="#f046dc" stroke-width="1" />
<rect x="422.60" y="521.34" width="4.6" height="4.6" fill="none" stroke="#f046dc" stroke-width="0.7"/>
<line x1="439.20" y1="545.07" x2="439.20" y2="533.64" stroke="#f046dc" stroke-width="1" />
<line x1="436.90" y1="533.64" x2="441.50" y2="533.64" stroke="#f046dc" stroke-width="1" />
<line x1="436.90" y1="545.07" x2="441.50" y2="545.07" stroke="#f046dc" stroke-width="1" />
<rect x="436.90" y="537.06" width="4.6" height="4.6" fill="none" stroke="#f046dc" stroke-width="0.7"/>
<line x1="453.50" y1="543.17" x2="453.50" y2="535.55" stroke="#f046dc" stroke-width="1" />
<line x1="451.20" y1="535.55" x2="455.80" y2="535.55" stroke="#f046dc" stroke-width="1" />
<line x1="451.20" y1="543.17" x2="455.80" y2="543.17" stroke="#f046dc" stroke-width="1" />
<rect x="451.20" y="537.06" width="4.6" height="4.6" fill="none" stroke="#f046dc" stroke-width="0.7"/>
<line x1="467.80" y1="551.26" x2="467.80" y2="541.74" stroke="#f046dc" stroke-width="1" />
<line x1="465.50" y1="541.74" x2="470.10" y2="541.74" stroke="#f046dc" stroke-width="1" />
<line x1="465.50" y1="551.26" x2="470.10" y2="551.26" stroke="#f046dc" stroke-width="1" />
<rect x="465.50" y="544.20" width="4.6" height="4.6" fill="none" stroke="#f046dc" stroke-width="0.7"/>
<line x1="482.10" y1="592.21" x2="482.10" y2="589.36" stroke="#f046dc" stroke-width="1" />
<line x1="479.80" y1="589.36" x2="484.40" y2="589.36" stroke="#f046dc" stroke-width="1" />
<line x1="479.80" y1="592.21" x2="484.40" y2="592.21" stroke="#f046dc" stroke-width="1" />
<rect x="479.80" y="588.49" width="4.6" height="4.6" fill="none" stroke="#f046dc" stroke-width="0.7"/>
<line x1="496.40" y1="588.88" x2="496.40" y2="579.36" stroke="#f046dc" stroke-width="1" />
<line x1="494.10" y1="579.36" x2="498.70" y2="579.36" stroke="#f046dc" stroke-width="1" />
<line x1="494.10" y1="588.88" x2="498.70" y2="588.88" stroke="#f046dc" stroke-width="1" />
<rect x="494.10" y="581.82" width="4.6" height="4.6" fill="none" stroke="#f046dc" stroke-width="0.7"/>
<line x1="510.70" y1="582.69" x2="510.70" y2="571.26" stroke="#f046dc" stroke-width="1" />
<line x1="508.40" y1="571.26" x2="513.00" y2="571.26" stroke="#f046dc" stroke-width="1" />
<line x1="508.40" y1="582.69" x2="513.00" y2="582.69" stroke="#f046dc" stroke-width="1" />
<rect x="508.40" y="574.68" width="4.6" height="4.6" fill="none" stroke="#f046dc" stroke-width="0.7"/>
<line x1="525.00" y1="570.31" x2="525.00" y2="558.88" stroke="#f046dc" stroke-width="1" />
<line x1="522.70" y1="558.88" x2="527.30" y2="558.88" stroke="#f046dc" stroke-width="1" />
<line x1="522.70" y1="570.31" x2="527.30" y2="570.31" stroke="#f046dc" stroke-width="1" />
<rect x="522.70" y="562.29" width="4.6" height="4.6" fill="none" stroke="#f046dc" stroke-width="0.7"/>
<polyline points="424.90,545.55 439.20,529.36 453.50,531.74 467.80,546.02 482.10,591.26 496.40,583.17 510.70,578.40 525.00,578.40" fill="none" stroke="#a8105a" stroke-width="1.6"/>
<line x1="424.90" y1="547.93" x2="424.90" y2="543.17" stroke="#a8105a" stroke-width="1" />
<line x1="422.60" y1="543.17" x2="427.20" y2="543.17" stroke="#a8105a" stroke-width="1" />
<line x1="422.60" y1="547.93" x2="427.20" y2="547.93" stroke="#a8105a" stroke-width="1" />
<circle cx="424.90" cy="545.55" r="2.3" fill="none" stroke="#a8105a" stroke-width="0.7"/>
<line x1="439.20" y1="533.17" x2="439.20" y2="525.55" stroke="#a8105a" stroke-width="1" />
<line x1="436.90" y1="525.55" x2="441.50" y2="525.55" stroke="#a8105a" stroke-width="1" />
<line x1="436.90" y1="533.17" x2="441.50" y2="533.17" stroke="#a8105a" stroke-width="1" />
<circle cx="439.20" cy="529.36" r="2.3" fill="none" stroke="#a8105a" stroke-width="0.7"/>
<line x1="453.50" y1="538.88" x2="453.50" y2="524.59" stroke="#a8105a" stroke-width="1" />
<line x1="451.20" y1="524.59" x2="455.80" y2="524.59" stroke="#a8105a" stroke-width="1" />
<line x1="451.20" y1="538.88" x2="455.80" y2="538.88" stroke="#a8105a" stroke-width="1" />
<circle cx="453.50" cy="531.74" r="2.3" fill="none" stroke="#a8105a" stroke-width="0.7"/>
<line x1="467.80" y1="550.78" x2="467.80" y2="541.26" stroke="#a8105a" stroke-width="1" />
<line x1="465.50" y1="541.26" x2="470.10" y2="541.26" stroke="#a8105a" stroke-width="1" />
<line x1="465.50" y1="550.78" x2="470.10" y2="550.78" stroke="#a8105a" stroke-width="1" />
<circle cx="467.80" cy="546.02" r="2.3" fill="none" stroke="#a8105a" stroke-width="0.7"/>
<line x1="482.10" y1="592.69" x2="482.10" y2="589.83" stroke="#a8105a" stroke-width="1" />
<line x1="479.80" y1="589.83" x2="484.40" y2="589.83" stroke="#a8105a" stroke-width="1" />
<line x1="479.80" y1="592.69" x2="484.40" y2="592.69" stroke="#a8105a" stroke-width="1" />
<circle cx="482.10" cy="591.26" r="2.3" fill="none" stroke="#a8105a" stroke-width="0.7"/>
<line x1="496.40" y1="587.93" x2="496.40" y2="578.40" stroke="#a8105a" stroke-width="1" />
<line x1="494.10" y1="578.40" x2="498.70" y2="578.40" stroke="#a8105a" stroke-width="1" />
<line x1="494.10" y1="587.93" x2="498.70" y2="587.93" stroke="#a8105a" stroke-width="1" />
<circle cx="496.40" cy="583.17" r="2.3" fill="none" stroke="#a8105a" stroke-width="0.7"/>
<line x1="510.70" y1="585.55" x2="510.70" y2="571.26" stroke="#a8105a" stroke-width="1" />
<line x1="508.40" y1="571.26" x2="513.00" y2="571.26" stroke="#a8105a" stroke-width="1" />
<line x1="508.40" y1="585.55" x2="513.00" y2="585.55" stroke="#a8105a" stroke-width="1" />
<circle cx="510.70" cy="578.40" r="2.3" fill="none" stroke="#a8105a" stroke-width="0.7"/>
<line x1="525.00" y1="584.12" x2="525.00" y2="572.69" stroke="#a8105a" stroke-width="1" />
<line x1="522.70" y1="572.69" x2="527.30" y2="572.69" stroke="#a8105a" stroke-width="1" />
<line x1="522.70" y1="584.12" x2="527.30" y2="584.12" stroke="#a8105a" stroke-width="1" />
<circle cx="525.00" cy="578.40" r="2.3" fill="none" stroke="#a8105a" stroke-width="0.7"/>
<line x1="415.50" y1="476.95" x2="415.50" y2="597.00" stroke="#1e1e1e" stroke-width="1.2" />
<line x1="411.60" y1="596.50" x2="415.50" y2="596.50" stroke="#1e1e1e" stroke-width="1" />
<text x="411.00" y="598.84" font-size="6.5" font-weight="bold" text-anchor="end" fill="#000"  stroke="#000" stroke-width="0.2">0</text>
<line x1="411.60" y1="572.69" x2="415.50" y2="572.69" stroke="#1e1e1e" stroke-width="1" />
<text x="411.00" y="575.03" font-size="6.5" font-weight="bold" text-anchor="end" fill="#000"  stroke="#000" stroke-width="0.2">5</text>
<line x1="411.60" y1="548.88" x2="415.50" y2="548.88" stroke="#1e1e1e" stroke-width="1" />
<text x="411.00" y="551.22" font-size="6.5" font-weight="bold" text-anchor="end" fill="#000"  stroke="#000" stroke-width="0.2">10</text>
<line x1="411.60" y1="525.07" x2="415.50" y2="525.07" stroke="#1e1e1e" stroke-width="1" />
<text x="411.00" y="527.41" font-size="6.5" font-weight="bold" text-anchor="end" fill="#000"  stroke="#000" stroke-width="0.2">15</text>
<line x1="411.60" y1="501.26" x2="415.50" y2="501.26" stroke="#1e1e1e" stroke-width="1" />
<text x="411.00" y="503.60" font-size="6.5" font-weight="bold" text-anchor="end" fill="#000"  stroke="#000" stroke-width="0.2">20</text>
<line x1="411.60" y1="477.45" x2="415.50" y2="477.45" stroke="#1e1e1e" stroke-width="1" />
<text x="411.00" y="479.79" font-size="6.5" font-weight="bold" text-anchor="end" fill="#000"  stroke="#000" stroke-width="0.2">25</text>
<line x1="415.00" y1="596.50" x2="534.80" y2="596.50" stroke="#1e1e1e" stroke-width="1" />
<line x1="424.90" y1="596.50" x2="424.90" y2="600.00" stroke="#1e1e1e" stroke-width="1" />
<text x="424.90" y="607.60" font-size="6.4" font-weight="bold" text-anchor="middle" fill="#000"  stroke="#000" stroke-width="0.2">3</text>
<line x1="439.20" y1="596.50" x2="439.20" y2="600.00" stroke="#1e1e1e" stroke-width="1" />
<text x="439.20" y="607.60" font-size="6.4" font-weight="bold" text-anchor="middle" fill="#000"  stroke="#000" stroke-width="0.2">6</text>
<line x1="453.50" y1="596.50" x2="453.50" y2="600.00" stroke="#1e1e1e" stroke-width="1" />
<text x="453.50" y="607.60" font-size="6.4" font-weight="bold" text-anchor="middle" fill="#000"  stroke="#000" stroke-width="0.2">9</text>
<line x1="467.80" y1="596.50" x2="467.80" y2="600.00" stroke="#1e1e1e" stroke-width="1" />
<text x="467.80" y="607.60" font-size="6.4" font-weight="bold" text-anchor="middle" fill="#000"  stroke="#000" stroke-width="0.2">12</text>
<line x1="482.10" y1="596.50" x2="482.10" y2="600.00" stroke="#1e1e1e" stroke-width="1" />
<text x="482.10" y="607.60" font-size="6.4" font-weight="bold" text-anchor="middle" fill="#000"  stroke="#000" stroke-width="0.2">15</text>
<line x1="496.40" y1="596.50" x2="496.40" y2="600.00" stroke="#1e1e1e" stroke-width="1" />
<text x="496.40" y="607.60" font-size="6.4" font-weight="bold" text-anchor="middle" fill="#000"  stroke="#000" stroke-width="0.2">18</text>
<line x1="510.70" y1="596.50" x2="510.70" y2="600.00" stroke="#1e1e1e" stroke-width="1" />
<text x="510.70" y="607.60" font-size="6.4" font-weight="bold" text-anchor="middle" fill="#000"  stroke="#000" stroke-width="0.2">21</text>
<line x1="525.00" y1="596.50" x2="525.00" y2="600.00" stroke="#1e1e1e" stroke-width="1" />
<text x="525.00" y="607.60" font-size="6.4" font-weight="bold" text-anchor="middle" fill="#000"  stroke="#000" stroke-width="0.2">24</text>
<text x="524.60" y="617.50" font-size="6.4" font-weight="bold" text-anchor="middle" fill="#000"  stroke="#000" stroke-width="0.2">ZT</text>
<text x="475.30" y="456.45" font-size="8.4" font-weight="bold" text-anchor="middle" fill="#000"  stroke="#000" stroke-width="0.2">REMS</text>
<text x="475.30" y="465.85" font-size="8.4" font-weight="bold" text-anchor="middle" fill="#000"  stroke="#000" stroke-width="0.2">(DOM)</text>
<text x="0" y="0" font-size="7.2" font-weight="bold" text-anchor="middle" transform="translate(399.50,536.98) rotate(-90)">Amount (min/3hr)</text>
<rect x="616.60" y="477.85" width="58.60" height="117.45" fill="#dedede"/>
<polyline points="574.60,536.40 588.90,537.83 603.20,535.92 617.50,551.14 631.80,588.69 646.10,582.99 660.40,559.69 674.70,557.79" fill="none" stroke="#33f0f0" stroke-width="1.6"/>
<line x1="574.60" y1="540.20" x2="574.60" y2="532.60" stroke="#33f0f0" stroke-width="1" />
<line x1="572.30" y1="532.60" x2="576.90" y2="532.60" stroke="#33f0f0" stroke-width="1" />
<line x1="572.30" y1="540.20" x2="576.90" y2="540.20" stroke="#33f0f0" stroke-width="1" />
<rect x="572.30" y="534.10" width="4.6" height="4.6" fill="none" stroke="#33f0f0" stroke-width="0.7"/>
<line x1="588.90" y1="543.53" x2="588.90" y2="532.12" stroke="#33f0f0" stroke-width="1" />
<line x1="586.60" y1="532.12" x2="591.20" y2="532.12" stroke="#33f0f0" stroke-width="1" />
<line x1="586.60" y1="543.53" x2="591.20" y2="543.53" stroke="#33f0f0" stroke-width="1" />
<rect x="586.60" y="535.53" width="4.6" height="4.6" fill="none" stroke="#33f0f0" stroke-width="0.7"/>
<line x1="603.20" y1="544.48" x2="603.20" y2="527.37" stroke="#33f0f0" stroke-width="1" />
<line x1="600.90" y1="527.37" x2="605.50" y2="527.37" stroke="#33f0f0" stroke-width="1" />
<line x1="600.90" y1="544.48" x2="605.50" y2="544.48" stroke="#33f0f0" stroke-width="1" />
<rect x="600.90" y="533.62" width="4.6" height="4.6" fill="none" stroke="#33f0f0" stroke-width="0.7"/>
<line x1="617.50" y1="560.64" x2="617.50" y2="541.63" stroke="#33f0f0" stroke-width="1" />
<line x1="615.20" y1="541.63" x2="619.80" y2="541.63" stroke="#33f0f0" stroke-width="1" />
<line x1="615.20" y1="560.64" x2="619.80" y2="560.64" stroke="#33f0f0" stroke-width="1" />
<rect x="615.20" y="548.84" width="4.6" height="4.6" fill="none" stroke="#33f0f0" stroke-width="0.7"/>
<line x1="631.80" y1="591.07" x2="631.80" y2="586.32" stroke="#33f0f0" stroke-width="1" />
<line x1="629.50" y1="586.32" x2="634.10" y2="586.32" stroke="#33f0f0" stroke-width="1" />
<line x1="629.50" y1="591.07" x2="634.10" y2="591.07" stroke="#33f0f0" stroke-width="1" />
<rect x="629.50" y="586.39" width="4.6" height="4.6" fill="none" stroke="#33f0f0" stroke-width="0.7"/>
<line x1="646.10" y1="586.32" x2="646.10" y2="579.66" stroke="#33f0f0" stroke-width="1" />
<line x1="643.80" y1="579.66" x2="648.40" y2="579.66" stroke="#33f0f0" stroke-width="1" />
<line x1="643.80" y1="586.32" x2="648.40" y2="586.32" stroke="#33f0f0" stroke-width="1" />
<rect x="643.80" y="580.69" width="4.6" height="4.6" fill="none" stroke="#33f0f0" stroke-width="0.7"/>
<line x1="660.40" y1="570.63" x2="660.40" y2="548.76" stroke="#33f0f0" stroke-width="1" />
<line x1="658.10" y1="548.76" x2="662.70" y2="548.76" stroke="#33f0f0" stroke-width="1" />
<line x1="658.10" y1="570.63" x2="662.70" y2="570.63" stroke="#33f0f0" stroke-width="1" />
<rect x="658.10" y="557.39" width="4.6" height="4.6" fill="none" stroke="#33f0f0" stroke-width="0.7"/>
<line x1="674.70" y1="566.35" x2="674.70" y2="549.24" stroke="#33f0f0" stroke-width="1" />
<line x1="672.40" y1="549.24" x2="677.00" y2="549.24" stroke="#33f0f0" stroke-width="1" />
<line x1="672.40" y1="566.35" x2="677.00" y2="566.35" stroke="#33f0f0" stroke-width="1" />
<rect x="672.40" y="555.49" width="4.6" height="4.6" fill="none" stroke="#33f0f0" stroke-width="0.7"/>
<polyline points="574.60,533.55 588.90,537.83 603.20,523.56 617.50,555.89 631.80,594.40 646.10,588.69 660.40,578.23 674.70,575.86" fill="none" stroke="#101090" stroke-width="1.6"/>
<line x1="574.60" y1="541.15" x2="574.60" y2="525.94" stroke="#101090" stroke-width="1" />
<line x1="572.30" y1="525.94" x2="576.90" y2="525.94" stroke="#101090" stroke-width="1" />
<line x1="572.30" y1="541.15" x2="576.90" y2="541.15" stroke="#101090" stroke-width="1" />
<circle cx="574.60" cy="533.55" r="2.3" fill="none" stroke="#101090" stroke-width="0.7"/>
<line x1="588.90" y1="541.63" x2="588.90" y2="534.02" stroke="#101090" stroke-width="1" />
<line x1="586.60" y1="534.02" x2="591.20" y2="534.02" stroke="#101090" stroke-width="1" />
<line x1="586.60" y1="541.63" x2="591.20" y2="541.63" stroke="#101090" stroke-width="1" />
<circle cx="588.90" cy="537.83" r="2.3" fill="none" stroke="#101090" stroke-width="0.7"/>
<line x1="603.20" y1="527.37" x2="603.20" y2="519.76" stroke="#101090" stroke-width="1" />
<line x1="600.90" y1="519.76" x2="605.50" y2="519.76" stroke="#101090" stroke-width="1" />
<line x1="600.90" y1="527.37" x2="605.50" y2="527.37" stroke="#101090" stroke-width="1" />
<circle cx="603.20" cy="523.56" r="2.3" fill="none" stroke="#101090" stroke-width="0.7"/>
<line x1="617.50" y1="560.64" x2="617.50" y2="551.14" stroke="#101090" stroke-width="1" />
<line x1="615.20" y1="551.14" x2="619.80" y2="551.14" stroke="#101090" stroke-width="1" />
<line x1="615.20" y1="560.64" x2="619.80" y2="560.64" stroke="#101090" stroke-width="1" />
<circle cx="617.50" cy="555.89" r="2.3" fill="none" stroke="#101090" stroke-width="0.7"/>
<line x1="631.80" y1="595.82" x2="631.80" y2="592.97" stroke="#101090" stroke-width="1" />
<line x1="629.50" y1="592.97" x2="634.10" y2="592.97" stroke="#101090" stroke-width="1" />
<line x1="629.50" y1="595.82" x2="634.10" y2="595.82" stroke="#101090" stroke-width="1" />
<circle cx="631.80" cy="594.40" r="2.3" fill="none" stroke="#101090" stroke-width="0.7"/>
<line x1="646.10" y1="591.07" x2="646.10" y2="586.32" stroke="#101090" stroke-width="1" />
<line x1="643.80" y1="586.32" x2="648.40" y2="586.32" stroke="#101090" stroke-width="1" />
<line x1="643.80" y1="591.07" x2="648.40" y2="591.07" stroke="#101090" stroke-width="1" />
<circle cx="646.10" cy="588.69" r="2.3" fill="none" stroke="#101090" stroke-width="0.7"/>
<line x1="660.40" y1="586.79" x2="660.40" y2="569.68" stroke="#101090" stroke-width="1" />
<line x1="658.10" y1="569.68" x2="662.70" y2="569.68" stroke="#101090" stroke-width="1" />
<line x1="658.10" y1="586.79" x2="662.70" y2="586.79" stroke="#101090" stroke-width="1" />
<circle cx="660.40" cy="578.23" r="2.3" fill="none" stroke="#101090" stroke-width="0.7"/>
<line x1="674.70" y1="581.56" x2="674.70" y2="570.15" stroke="#101090" stroke-width="1" />
<line x1="672.40" y1="570.15" x2="677.00" y2="570.15" stroke="#101090" stroke-width="1" />
<line x1="672.40" y1="581.56" x2="677.00" y2="581.56" stroke="#101090" stroke-width="1" />
<circle cx="674.70" cy="575.86" r="2.3" fill="none" stroke="#101090" stroke-width="0.7"/>
<line x1="565.20" y1="476.95" x2="565.20" y2="596.80" stroke="#1e1e1e" stroke-width="1.2" />
<line x1="561.30" y1="596.30" x2="565.20" y2="596.30" stroke="#1e1e1e" stroke-width="1" />
<text x="560.70" y="598.64" font-size="6.5" font-weight="bold" text-anchor="end" fill="#000"  stroke="#000" stroke-width="0.2">0</text>
<line x1="561.30" y1="572.53" x2="565.20" y2="572.53" stroke="#1e1e1e" stroke-width="1" />
<text x="560.70" y="574.87" font-size="6.5" font-weight="bold" text-anchor="end" fill="#000"  stroke="#000" stroke-width="0.2">5</text>
<line x1="561.30" y1="548.76" x2="565.20" y2="548.76" stroke="#1e1e1e" stroke-width="1" />
<text x="560.70" y="551.10" font-size="6.5" font-weight="bold" text-anchor="end" fill="#000"  stroke="#000" stroke-width="0.2">10</text>
<line x1="561.30" y1="524.99" x2="565.20" y2="524.99" stroke="#1e1e1e" stroke-width="1" />
<text x="560.70" y="527.33" font-size="6.5" font-weight="bold" text-anchor="end" fill="#000"  stroke="#000" stroke-width="0.2">15</text>
<line x1="561.30" y1="501.22" x2="565.20" y2="501.22" stroke="#1e1e1e" stroke-width="1" />
<text x="560.70" y="503.56" font-size="6.5" font-weight="bold" text-anchor="end" fill="#000"  stroke="#000" stroke-width="0.2">20</text>
<line x1="561.30" y1="477.45" x2="565.20" y2="477.45" stroke="#1e1e1e" stroke-width="1" />
<text x="560.70" y="479.79" font-size="6.5" font-weight="bold" text-anchor="end" fill="#000"  stroke="#000" stroke-width="0.2">25</text>
<line x1="564.70" y1="596.30" x2="684.50" y2="596.30" stroke="#1e1e1e" stroke-width="1" />
<line x1="574.60" y1="596.30" x2="574.60" y2="599.80" stroke="#1e1e1e" stroke-width="1" />
<text x="574.60" y="607.40" font-size="6.4" font-weight="bold" text-anchor="middle" fill="#000"  stroke="#000" stroke-width="0.2">3</text>
<line x1="588.90" y1="596.30" x2="588.90" y2="599.80" stroke="#1e1e1e" stroke-width="1" />
<text x="588.90" y="607.40" font-size="6.4" font-weight="bold" text-anchor="middle" fill="#000"  stroke="#000" stroke-width="0.2">6</text>
<line x1="603.20" y1="596.30" x2="603.20" y2="599.80" stroke="#1e1e1e" stroke-width="1" />
<text x="603.20" y="607.40" font-size="6.4" font-weight="bold" text-anchor="middle" fill="#000"  stroke="#000" stroke-width="0.2">9</text>
<line x1="617.50" y1="596.30" x2="617.50" y2="599.80" stroke="#1e1e1e" stroke-width="1" />
<text x="617.50" y="607.40" font-size="6.4" font-weight="bold" text-anchor="middle" fill="#000"  stroke="#000" stroke-width="0.2">12</text>
<line x1="631.80" y1="596.30" x2="631.80" y2="599.80" stroke="#1e1e1e" stroke-width="1" />
<text x="631.80" y="607.40" font-size="6.4" font-weight="bold" text-anchor="middle" fill="#000"  stroke="#000" stroke-width="0.2">15</text>
<line x1="646.10" y1="596.30" x2="646.10" y2="599.80" stroke="#1e1e1e" stroke-width="1" />
<text x="646.10" y="607.40" font-size="6.4" font-weight="bold" text-anchor="middle" fill="#000"  stroke="#000" stroke-width="0.2">18</text>
<line x1="660.40" y1="596.30" x2="660.40" y2="599.80" stroke="#1e1e1e" stroke-width="1" />
<text x="660.40" y="607.40" font-size="6.4" font-weight="bold" text-anchor="middle" fill="#000"  stroke="#000" stroke-width="0.2">21</text>
<line x1="674.70" y1="596.30" x2="674.70" y2="599.80" stroke="#1e1e1e" stroke-width="1" />
<text x="674.70" y="607.40" font-size="6.4" font-weight="bold" text-anchor="middle" fill="#000"  stroke="#000" stroke-width="0.2">24</text>
<text x="674.30" y="617.30" font-size="6.4" font-weight="bold" text-anchor="middle" fill="#000"  stroke="#000" stroke-width="0.2">ZT</text>
<text x="625.00" y="456.45" font-size="8.4" font-weight="bold" text-anchor="middle" fill="#000"  stroke="#000" stroke-width="0.2">REMS</text>
<text x="625.00" y="465.85" font-size="8.4" font-weight="bold" text-anchor="middle" fill="#000"  stroke="#000" stroke-width="0.2">(SUB)</text>
<text x="0" y="0" font-size="7.2" font-weight="bold" text-anchor="middle" transform="translate(549.20,536.88) rotate(-90)">Amount (min/3hr)</text>
<text x="624.50" y="497.05" font-size="7.2" font-weight="normal" text-anchor="middle" fill="#1a1a1a"  stroke="#1a1a1a" stroke-width="0.12">Housing × Time&#160;&#160;#</text>
<line x1="572.80" y1="501.22" x2="675.20" y2="501.22" stroke="#777" stroke-width="1.5" />
</svg></body></html>
